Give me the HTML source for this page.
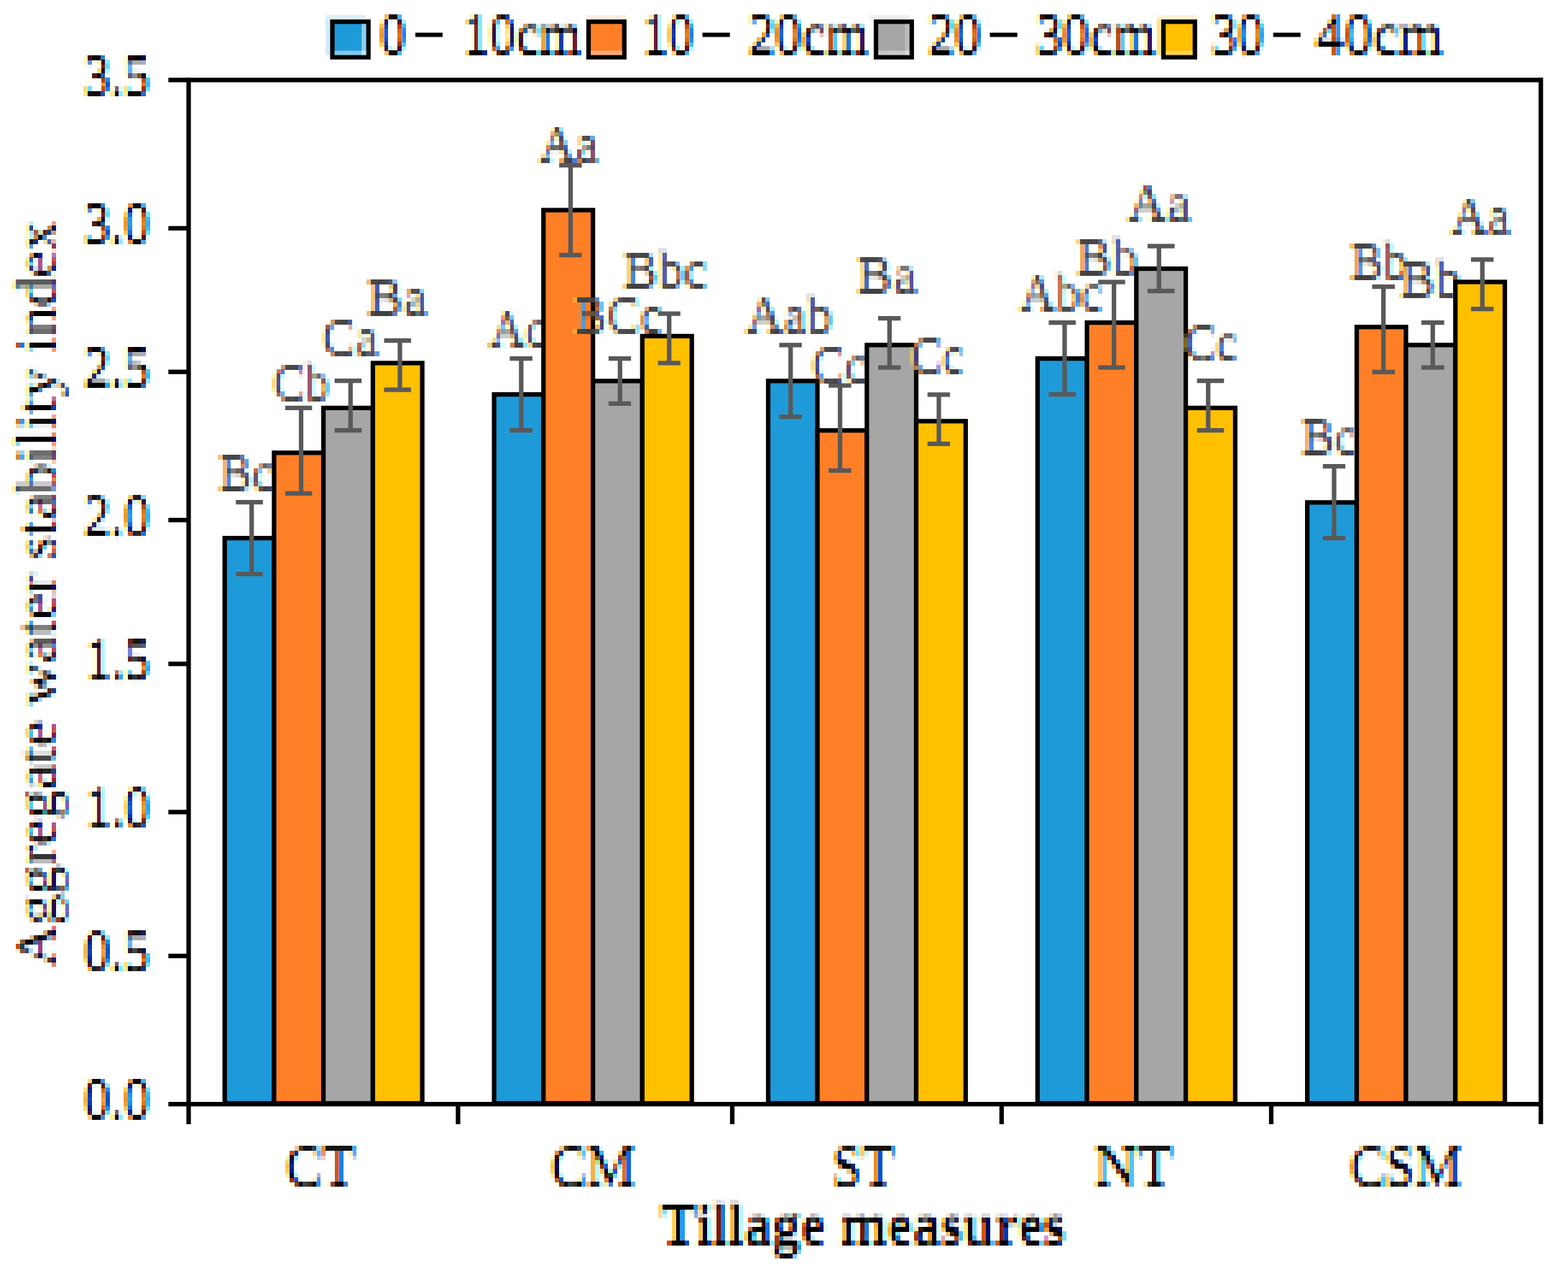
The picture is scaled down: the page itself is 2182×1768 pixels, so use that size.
<!DOCTYPE html>
<html lang="en"><head><meta charset="utf-8"><title>Aggregate water stability index by tillage measure</title>
<style>html,body{margin:0;padding:0;background:#fff}body{width:2182px;height:1768px;overflow:hidden}svg{display:block}text{text-rendering:geometricPrecision}</style></head>
<body>
<svg width="2182" height="1768" viewBox="0 0 2182 1768" font-family="'Liberation Serif', serif">
<defs>
<filter id="f1" filterUnits="userSpaceOnUse" primitiveUnits="userSpaceOnUse" x="278" y="602" width="125" height="100" color-interpolation-filters="sRGB">
<feOffset in="SourceAlpha" dx="1" dy="0" result="p0o"/><feComposite in="SourceAlpha" in2="p0o" operator="in" result="p0t"/><feComposite in="SourceAlpha" in2="p0t" operator="arithmetic" k1="0" k2="0.5" k3="0.5" k4="0" result="p0"/>
<feMorphology in="p0" operator="dilate" radius="0 1" result="p1"/>
<feOffset in="p1" dx="0" dy="0" result="th"/>
<feGaussianBlur in="th" stdDeviation="1.5 1.0" result="a"/>
<feOffset in="a" dx="2" dy="0" result="ar"/>
<feOffset in="a" dx="-2" dy="0" result="ab"/>
<feColorMatrix in="ar" type="matrix" values="0 0 0 -0.75 1 0 0 0 0 1 0 0 0 0 1 0 0 0 0 1" result="cr"/>
<feColorMatrix in="a" type="matrix" values="0 0 0 0 1 0 0 0 -0.75 1 0 0 0 0 1 0 0 0 0 1" result="cg"/>
<feColorMatrix in="ab" type="matrix" values="0 0 0 0 1 0 0 0 0 1 0 0 0 -0.75 1 0 0 0 0 1" result="cb"/>
<feBlend in="cr" in2="cg" mode="multiply" result="m"/>
<feBlend in="m" in2="cb" mode="multiply" result="rgb"/>
<feFlood x="281" y="605" width="1" height="1" flood-color="#000" result="d"/>
<feOffset in="d" dx="0" dy="0" x="278" y="602" width="6" height="6" result="c6"/>
<feTile in="c6" x="278" y="602" width="24" height="24" result="t24"/>
<feOffset in="t24" dx="0" dy="0" x="278" y="602" width="25" height="25" result="t25"/>
<feTile in="t25" x="278" y="602" width="125" height="100" result="grid"/>
<feComposite in="rgb" in2="grid" operator="in" result="s"/>
<feMorphology in="s" operator="dilate" radius="3 0" result="hx"/>
<feColorMatrix in="hx" type="matrix" values="-1 0 0 0 1 0 -1 0 0 1 0 0 -1 0 1 0 0 0 1 0" result="ink"/>
<feMorphology in="ink" operator="dilate" radius="0 3" result="vy"/>
<feColorMatrix in="vy" type="matrix" values="-1 0 0 0 1 0 -1 0 0 1 0 0 -1 0 1 0 0 0 1 0" result="pix"/>
<feColorMatrix in="pix" type="matrix" values="1 0 0 0 0 1 0 0 0 0 1 0 0 0 0 0 0 0 0 1" result="gr"/>
<feColorMatrix in="pix" type="matrix" values="0 1 0 0 0 0 1 0 0 0 0 1 0 0 0 0 0 0 0 1" result="gg"/>
<feColorMatrix in="pix" type="matrix" values="0 0 1 0 0 0 0 1 0 0 0 0 1 0 0 0 0 0 0 1" result="gb"/>
<feBlend in="gr" in2="gg" mode="darken" result="d1"/>
<feBlend in="d1" in2="gb" mode="darken" result="mn"/>
<feColorMatrix in="mn" type="matrix" values="0 0 0 0 1 0 0 0 0 1 0 0 0 0 1 1.3333 0 0 0 -0.3333" result="wm"/>
<feComposite in="pix" in2="wm" operator="arithmetic" k1="0" k2="1" k3="-1" k4="0"/>
</filter>
<filter id="f2" filterUnits="userSpaceOnUse" primitiveUnits="userSpaceOnUse" x="653" y="402" width="125" height="100" color-interpolation-filters="sRGB">
<feOffset in="SourceAlpha" dx="1" dy="0" result="p0o"/><feComposite in="SourceAlpha" in2="p0o" operator="in" result="p0t"/><feComposite in="SourceAlpha" in2="p0t" operator="arithmetic" k1="0" k2="0.5" k3="0.5" k4="0" result="p0"/>
<feMorphology in="p0" operator="dilate" radius="0 1" result="p1"/>
<feOffset in="p1" dx="0" dy="0" result="th"/>
<feGaussianBlur in="th" stdDeviation="1.5 1.0" result="a"/>
<feOffset in="a" dx="2" dy="0" result="ar"/>
<feOffset in="a" dx="-2" dy="0" result="ab"/>
<feColorMatrix in="ar" type="matrix" values="0 0 0 -0.75 1 0 0 0 0 1 0 0 0 0 1 0 0 0 0 1" result="cr"/>
<feColorMatrix in="a" type="matrix" values="0 0 0 0 1 0 0 0 -0.75 1 0 0 0 0 1 0 0 0 0 1" result="cg"/>
<feColorMatrix in="ab" type="matrix" values="0 0 0 0 1 0 0 0 0 1 0 0 0 -0.75 1 0 0 0 0 1" result="cb"/>
<feBlend in="cr" in2="cg" mode="multiply" result="m"/>
<feBlend in="m" in2="cb" mode="multiply" result="rgb"/>
<feFlood x="656" y="405" width="1" height="1" flood-color="#000" result="d"/>
<feOffset in="d" dx="0" dy="0" x="653" y="402" width="6" height="6" result="c6"/>
<feTile in="c6" x="653" y="402" width="24" height="24" result="t24"/>
<feOffset in="t24" dx="0" dy="0" x="653" y="402" width="25" height="25" result="t25"/>
<feTile in="t25" x="653" y="402" width="125" height="100" result="grid"/>
<feComposite in="rgb" in2="grid" operator="in" result="s"/>
<feMorphology in="s" operator="dilate" radius="3 0" result="hx"/>
<feColorMatrix in="hx" type="matrix" values="-1 0 0 0 1 0 -1 0 0 1 0 0 -1 0 1 0 0 0 1 0" result="ink"/>
<feMorphology in="ink" operator="dilate" radius="0 3" result="vy"/>
<feColorMatrix in="vy" type="matrix" values="-1 0 0 0 1 0 -1 0 0 1 0 0 -1 0 1 0 0 0 1 0" result="pix"/>
<feColorMatrix in="pix" type="matrix" values="1 0 0 0 0 1 0 0 0 0 1 0 0 0 0 0 0 0 0 1" result="gr"/>
<feColorMatrix in="pix" type="matrix" values="0 1 0 0 0 0 1 0 0 0 0 1 0 0 0 0 0 0 0 1" result="gg"/>
<feColorMatrix in="pix" type="matrix" values="0 0 1 0 0 0 0 1 0 0 0 0 1 0 0 0 0 0 0 1" result="gb"/>
<feBlend in="gr" in2="gg" mode="darken" result="d1"/>
<feBlend in="d1" in2="gb" mode="darken" result="mn"/>
<feColorMatrix in="mn" type="matrix" values="0 0 0 0 1 0 0 0 0 1 0 0 0 0 1 1.3333 0 0 0 -0.3333" result="wm"/>
<feComposite in="pix" in2="wm" operator="arithmetic" k1="0" k2="1" k3="-1" k4="0"/>
</filter>
<filter id="f3" filterUnits="userSpaceOnUse" primitiveUnits="userSpaceOnUse" x="1003" y="377" width="175" height="125" color-interpolation-filters="sRGB">
<feOffset in="SourceAlpha" dx="1" dy="0" result="p0o"/><feComposite in="SourceAlpha" in2="p0o" operator="in" result="p0t"/><feComposite in="SourceAlpha" in2="p0t" operator="arithmetic" k1="0" k2="0.5" k3="0.5" k4="0" result="p0"/>
<feMorphology in="p0" operator="dilate" radius="0 1" result="p1"/>
<feOffset in="p1" dx="0" dy="0" result="th"/>
<feGaussianBlur in="th" stdDeviation="1.5 1.0" result="a"/>
<feOffset in="a" dx="2" dy="0" result="ar"/>
<feOffset in="a" dx="-2" dy="0" result="ab"/>
<feColorMatrix in="ar" type="matrix" values="0 0 0 -0.75 1 0 0 0 0 1 0 0 0 0 1 0 0 0 0 1" result="cr"/>
<feColorMatrix in="a" type="matrix" values="0 0 0 0 1 0 0 0 -0.75 1 0 0 0 0 1 0 0 0 0 1" result="cg"/>
<feColorMatrix in="ab" type="matrix" values="0 0 0 0 1 0 0 0 0 1 0 0 0 -0.75 1 0 0 0 0 1" result="cb"/>
<feBlend in="cr" in2="cg" mode="multiply" result="m"/>
<feBlend in="m" in2="cb" mode="multiply" result="rgb"/>
<feFlood x="1006" y="380" width="1" height="1" flood-color="#000" result="d"/>
<feOffset in="d" dx="0" dy="0" x="1003" y="377" width="6" height="6" result="c6"/>
<feTile in="c6" x="1003" y="377" width="24" height="24" result="t24"/>
<feOffset in="t24" dx="0" dy="0" x="1003" y="377" width="25" height="25" result="t25"/>
<feTile in="t25" x="1003" y="377" width="175" height="125" result="grid"/>
<feComposite in="rgb" in2="grid" operator="in" result="s"/>
<feMorphology in="s" operator="dilate" radius="3 0" result="hx"/>
<feColorMatrix in="hx" type="matrix" values="-1 0 0 0 1 0 -1 0 0 1 0 0 -1 0 1 0 0 0 1 0" result="ink"/>
<feMorphology in="ink" operator="dilate" radius="0 3" result="vy"/>
<feColorMatrix in="vy" type="matrix" values="-1 0 0 0 1 0 -1 0 0 1 0 0 -1 0 1 0 0 0 1 0" result="pix"/>
<feColorMatrix in="pix" type="matrix" values="1 0 0 0 0 1 0 0 0 0 1 0 0 0 0 0 0 0 0 1" result="gr"/>
<feColorMatrix in="pix" type="matrix" values="0 1 0 0 0 0 1 0 0 0 0 1 0 0 0 0 0 0 0 1" result="gg"/>
<feColorMatrix in="pix" type="matrix" values="0 0 1 0 0 0 0 1 0 0 0 0 1 0 0 0 0 0 0 1" result="gb"/>
<feBlend in="gr" in2="gg" mode="darken" result="d1"/>
<feBlend in="d1" in2="gb" mode="darken" result="mn"/>
<feColorMatrix in="mn" type="matrix" values="0 0 0 0 1 0 0 0 0 1 0 0 0 0 1 1.3333 0 0 0 -0.3333" result="wm"/>
<feComposite in="pix" in2="wm" operator="arithmetic" k1="0" k2="1" k3="-1" k4="0"/>
</filter>
<filter id="f4" filterUnits="userSpaceOnUse" primitiveUnits="userSpaceOnUse" x="1403" y="352" width="150" height="100" color-interpolation-filters="sRGB">
<feOffset in="SourceAlpha" dx="1" dy="0" result="p0o"/><feComposite in="SourceAlpha" in2="p0o" operator="in" result="p0t"/><feComposite in="SourceAlpha" in2="p0t" operator="arithmetic" k1="0" k2="0.5" k3="0.5" k4="0" result="p0"/>
<feMorphology in="p0" operator="dilate" radius="0 1" result="p1"/>
<feOffset in="p1" dx="0" dy="0" result="th"/>
<feGaussianBlur in="th" stdDeviation="1.5 1.0" result="a"/>
<feOffset in="a" dx="2" dy="0" result="ar"/>
<feOffset in="a" dx="-2" dy="0" result="ab"/>
<feColorMatrix in="ar" type="matrix" values="0 0 0 -0.75 1 0 0 0 0 1 0 0 0 0 1 0 0 0 0 1" result="cr"/>
<feColorMatrix in="a" type="matrix" values="0 0 0 0 1 0 0 0 -0.75 1 0 0 0 0 1 0 0 0 0 1" result="cg"/>
<feColorMatrix in="ab" type="matrix" values="0 0 0 0 1 0 0 0 0 1 0 0 0 -0.75 1 0 0 0 0 1" result="cb"/>
<feBlend in="cr" in2="cg" mode="multiply" result="m"/>
<feBlend in="m" in2="cb" mode="multiply" result="rgb"/>
<feFlood x="1406" y="355" width="1" height="1" flood-color="#000" result="d"/>
<feOffset in="d" dx="0" dy="0" x="1403" y="352" width="6" height="6" result="c6"/>
<feTile in="c6" x="1403" y="352" width="24" height="24" result="t24"/>
<feOffset in="t24" dx="0" dy="0" x="1403" y="352" width="25" height="25" result="t25"/>
<feTile in="t25" x="1403" y="352" width="150" height="100" result="grid"/>
<feComposite in="rgb" in2="grid" operator="in" result="s"/>
<feMorphology in="s" operator="dilate" radius="3 0" result="hx"/>
<feColorMatrix in="hx" type="matrix" values="-1 0 0 0 1 0 -1 0 0 1 0 0 -1 0 1 0 0 0 1 0" result="ink"/>
<feMorphology in="ink" operator="dilate" radius="0 3" result="vy"/>
<feColorMatrix in="vy" type="matrix" values="-1 0 0 0 1 0 -1 0 0 1 0 0 -1 0 1 0 0 0 1 0" result="pix"/>
<feColorMatrix in="pix" type="matrix" values="1 0 0 0 0 1 0 0 0 0 1 0 0 0 0 0 0 0 0 1" result="gr"/>
<feColorMatrix in="pix" type="matrix" values="0 1 0 0 0 0 1 0 0 0 0 1 0 0 0 0 0 0 0 1" result="gg"/>
<feColorMatrix in="pix" type="matrix" values="0 0 1 0 0 0 0 1 0 0 0 0 1 0 0 0 0 0 0 1" result="gb"/>
<feBlend in="gr" in2="gg" mode="darken" result="d1"/>
<feBlend in="d1" in2="gb" mode="darken" result="mn"/>
<feColorMatrix in="mn" type="matrix" values="0 0 0 0 1 0 0 0 0 1 0 0 0 0 1 1.3333 0 0 0 -0.3333" result="wm"/>
<feComposite in="pix" in2="wm" operator="arithmetic" k1="0" k2="1" k3="-1" k4="0"/>
</filter>
<filter id="f5" filterUnits="userSpaceOnUse" primitiveUnits="userSpaceOnUse" x="1778" y="552" width="125" height="100" color-interpolation-filters="sRGB">
<feOffset in="SourceAlpha" dx="1" dy="0" result="p0o"/><feComposite in="SourceAlpha" in2="p0o" operator="in" result="p0t"/><feComposite in="SourceAlpha" in2="p0t" operator="arithmetic" k1="0" k2="0.5" k3="0.5" k4="0" result="p0"/>
<feMorphology in="p0" operator="dilate" radius="0 1" result="p1"/>
<feOffset in="p1" dx="0" dy="0" result="th"/>
<feGaussianBlur in="th" stdDeviation="1.5 1.0" result="a"/>
<feOffset in="a" dx="2" dy="0" result="ar"/>
<feOffset in="a" dx="-2" dy="0" result="ab"/>
<feColorMatrix in="ar" type="matrix" values="0 0 0 -0.75 1 0 0 0 0 1 0 0 0 0 1 0 0 0 0 1" result="cr"/>
<feColorMatrix in="a" type="matrix" values="0 0 0 0 1 0 0 0 -0.75 1 0 0 0 0 1 0 0 0 0 1" result="cg"/>
<feColorMatrix in="ab" type="matrix" values="0 0 0 0 1 0 0 0 0 1 0 0 0 -0.75 1 0 0 0 0 1" result="cb"/>
<feBlend in="cr" in2="cg" mode="multiply" result="m"/>
<feBlend in="m" in2="cb" mode="multiply" result="rgb"/>
<feFlood x="1781" y="555" width="1" height="1" flood-color="#000" result="d"/>
<feOffset in="d" dx="0" dy="0" x="1778" y="552" width="6" height="6" result="c6"/>
<feTile in="c6" x="1778" y="552" width="24" height="24" result="t24"/>
<feOffset in="t24" dx="0" dy="0" x="1778" y="552" width="25" height="25" result="t25"/>
<feTile in="t25" x="1778" y="552" width="125" height="100" result="grid"/>
<feComposite in="rgb" in2="grid" operator="in" result="s"/>
<feMorphology in="s" operator="dilate" radius="3 0" result="hx"/>
<feColorMatrix in="hx" type="matrix" values="-1 0 0 0 1 0 -1 0 0 1 0 0 -1 0 1 0 0 0 1 0" result="ink"/>
<feMorphology in="ink" operator="dilate" radius="0 3" result="vy"/>
<feColorMatrix in="vy" type="matrix" values="-1 0 0 0 1 0 -1 0 0 1 0 0 -1 0 1 0 0 0 1 0" result="pix"/>
<feColorMatrix in="pix" type="matrix" values="1 0 0 0 0 1 0 0 0 0 1 0 0 0 0 0 0 0 0 1" result="gr"/>
<feColorMatrix in="pix" type="matrix" values="0 1 0 0 0 0 1 0 0 0 0 1 0 0 0 0 0 0 0 1" result="gg"/>
<feColorMatrix in="pix" type="matrix" values="0 0 1 0 0 0 0 1 0 0 0 0 1 0 0 0 0 0 0 1" result="gb"/>
<feBlend in="gr" in2="gg" mode="darken" result="d1"/>
<feBlend in="d1" in2="gb" mode="darken" result="mn"/>
<feColorMatrix in="mn" type="matrix" values="0 0 0 0 1 0 0 0 0 1 0 0 0 0 1 1.3333 0 0 0 -0.3333" result="wm"/>
<feComposite in="pix" in2="wm" operator="arithmetic" k1="0" k2="1" k3="-1" k4="0"/>
</filter>
<filter id="f6" filterUnits="userSpaceOnUse" primitiveUnits="userSpaceOnUse" x="353" y="477" width="125" height="100" color-interpolation-filters="sRGB">
<feOffset in="SourceAlpha" dx="1" dy="0" result="p0o"/><feComposite in="SourceAlpha" in2="p0o" operator="in" result="p0t"/><feComposite in="SourceAlpha" in2="p0t" operator="arithmetic" k1="0" k2="0.5" k3="0.5" k4="0" result="p0"/>
<feMorphology in="p0" operator="dilate" radius="0 1" result="p1"/>
<feOffset in="p1" dx="0" dy="0" result="th"/>
<feGaussianBlur in="th" stdDeviation="1.5 1.0" result="a"/>
<feOffset in="a" dx="2" dy="0" result="ar"/>
<feOffset in="a" dx="-2" dy="0" result="ab"/>
<feColorMatrix in="ar" type="matrix" values="0 0 0 -0.75 1 0 0 0 0 1 0 0 0 0 1 0 0 0 0 1" result="cr"/>
<feColorMatrix in="a" type="matrix" values="0 0 0 0 1 0 0 0 -0.75 1 0 0 0 0 1 0 0 0 0 1" result="cg"/>
<feColorMatrix in="ab" type="matrix" values="0 0 0 0 1 0 0 0 0 1 0 0 0 -0.75 1 0 0 0 0 1" result="cb"/>
<feBlend in="cr" in2="cg" mode="multiply" result="m"/>
<feBlend in="m" in2="cb" mode="multiply" result="rgb"/>
<feFlood x="356" y="480" width="1" height="1" flood-color="#000" result="d"/>
<feOffset in="d" dx="0" dy="0" x="353" y="477" width="6" height="6" result="c6"/>
<feTile in="c6" x="353" y="477" width="24" height="24" result="t24"/>
<feOffset in="t24" dx="0" dy="0" x="353" y="477" width="25" height="25" result="t25"/>
<feTile in="t25" x="353" y="477" width="125" height="100" result="grid"/>
<feComposite in="rgb" in2="grid" operator="in" result="s"/>
<feMorphology in="s" operator="dilate" radius="3 0" result="hx"/>
<feColorMatrix in="hx" type="matrix" values="-1 0 0 0 1 0 -1 0 0 1 0 0 -1 0 1 0 0 0 1 0" result="ink"/>
<feMorphology in="ink" operator="dilate" radius="0 3" result="vy"/>
<feColorMatrix in="vy" type="matrix" values="-1 0 0 0 1 0 -1 0 0 1 0 0 -1 0 1 0 0 0 1 0" result="pix"/>
<feColorMatrix in="pix" type="matrix" values="1 0 0 0 0 1 0 0 0 0 1 0 0 0 0 0 0 0 0 1" result="gr"/>
<feColorMatrix in="pix" type="matrix" values="0 1 0 0 0 0 1 0 0 0 0 1 0 0 0 0 0 0 0 1" result="gg"/>
<feColorMatrix in="pix" type="matrix" values="0 0 1 0 0 0 0 1 0 0 0 0 1 0 0 0 0 0 0 1" result="gb"/>
<feBlend in="gr" in2="gg" mode="darken" result="d1"/>
<feBlend in="d1" in2="gb" mode="darken" result="mn"/>
<feColorMatrix in="mn" type="matrix" values="0 0 0 0 1 0 0 0 0 1 0 0 0 0 1 1.3333 0 0 0 -0.3333" result="wm"/>
<feComposite in="pix" in2="wm" operator="arithmetic" k1="0" k2="1" k3="-1" k4="0"/>
</filter>
<filter id="f7" filterUnits="userSpaceOnUse" primitiveUnits="userSpaceOnUse" x="728" y="152" width="125" height="100" color-interpolation-filters="sRGB">
<feOffset in="SourceAlpha" dx="1" dy="0" result="p0o"/><feComposite in="SourceAlpha" in2="p0o" operator="in" result="p0t"/><feComposite in="SourceAlpha" in2="p0t" operator="arithmetic" k1="0" k2="0.5" k3="0.5" k4="0" result="p0"/>
<feMorphology in="p0" operator="dilate" radius="0 1" result="p1"/>
<feOffset in="p1" dx="0" dy="0" result="th"/>
<feGaussianBlur in="th" stdDeviation="1.5 1.0" result="a"/>
<feOffset in="a" dx="2" dy="0" result="ar"/>
<feOffset in="a" dx="-2" dy="0" result="ab"/>
<feColorMatrix in="ar" type="matrix" values="0 0 0 -0.75 1 0 0 0 0 1 0 0 0 0 1 0 0 0 0 1" result="cr"/>
<feColorMatrix in="a" type="matrix" values="0 0 0 0 1 0 0 0 -0.75 1 0 0 0 0 1 0 0 0 0 1" result="cg"/>
<feColorMatrix in="ab" type="matrix" values="0 0 0 0 1 0 0 0 0 1 0 0 0 -0.75 1 0 0 0 0 1" result="cb"/>
<feBlend in="cr" in2="cg" mode="multiply" result="m"/>
<feBlend in="m" in2="cb" mode="multiply" result="rgb"/>
<feFlood x="731" y="155" width="1" height="1" flood-color="#000" result="d"/>
<feOffset in="d" dx="0" dy="0" x="728" y="152" width="6" height="6" result="c6"/>
<feTile in="c6" x="728" y="152" width="24" height="24" result="t24"/>
<feOffset in="t24" dx="0" dy="0" x="728" y="152" width="25" height="25" result="t25"/>
<feTile in="t25" x="728" y="152" width="125" height="100" result="grid"/>
<feComposite in="rgb" in2="grid" operator="in" result="s"/>
<feMorphology in="s" operator="dilate" radius="3 0" result="hx"/>
<feColorMatrix in="hx" type="matrix" values="-1 0 0 0 1 0 -1 0 0 1 0 0 -1 0 1 0 0 0 1 0" result="ink"/>
<feMorphology in="ink" operator="dilate" radius="0 3" result="vy"/>
<feColorMatrix in="vy" type="matrix" values="-1 0 0 0 1 0 -1 0 0 1 0 0 -1 0 1 0 0 0 1 0" result="pix"/>
<feColorMatrix in="pix" type="matrix" values="1 0 0 0 0 1 0 0 0 0 1 0 0 0 0 0 0 0 0 1" result="gr"/>
<feColorMatrix in="pix" type="matrix" values="0 1 0 0 0 0 1 0 0 0 0 1 0 0 0 0 0 0 0 1" result="gg"/>
<feColorMatrix in="pix" type="matrix" values="0 0 1 0 0 0 0 1 0 0 0 0 1 0 0 0 0 0 0 1" result="gb"/>
<feBlend in="gr" in2="gg" mode="darken" result="d1"/>
<feBlend in="d1" in2="gb" mode="darken" result="mn"/>
<feColorMatrix in="mn" type="matrix" values="0 0 0 0 1 0 0 0 0 1 0 0 0 0 1 1.3333 0 0 0 -0.3333" result="wm"/>
<feComposite in="pix" in2="wm" operator="arithmetic" k1="0" k2="1" k3="-1" k4="0"/>
</filter>
<filter id="f8" filterUnits="userSpaceOnUse" primitiveUnits="userSpaceOnUse" x="1103" y="452" width="125" height="100" color-interpolation-filters="sRGB">
<feOffset in="SourceAlpha" dx="1" dy="0" result="p0o"/><feComposite in="SourceAlpha" in2="p0o" operator="in" result="p0t"/><feComposite in="SourceAlpha" in2="p0t" operator="arithmetic" k1="0" k2="0.5" k3="0.5" k4="0" result="p0"/>
<feMorphology in="p0" operator="dilate" radius="0 1" result="p1"/>
<feOffset in="p1" dx="0" dy="0" result="th"/>
<feGaussianBlur in="th" stdDeviation="1.5 1.0" result="a"/>
<feOffset in="a" dx="2" dy="0" result="ar"/>
<feOffset in="a" dx="-2" dy="0" result="ab"/>
<feColorMatrix in="ar" type="matrix" values="0 0 0 -0.75 1 0 0 0 0 1 0 0 0 0 1 0 0 0 0 1" result="cr"/>
<feColorMatrix in="a" type="matrix" values="0 0 0 0 1 0 0 0 -0.75 1 0 0 0 0 1 0 0 0 0 1" result="cg"/>
<feColorMatrix in="ab" type="matrix" values="0 0 0 0 1 0 0 0 0 1 0 0 0 -0.75 1 0 0 0 0 1" result="cb"/>
<feBlend in="cr" in2="cg" mode="multiply" result="m"/>
<feBlend in="m" in2="cb" mode="multiply" result="rgb"/>
<feFlood x="1106" y="455" width="1" height="1" flood-color="#000" result="d"/>
<feOffset in="d" dx="0" dy="0" x="1103" y="452" width="6" height="6" result="c6"/>
<feTile in="c6" x="1103" y="452" width="24" height="24" result="t24"/>
<feOffset in="t24" dx="0" dy="0" x="1103" y="452" width="25" height="25" result="t25"/>
<feTile in="t25" x="1103" y="452" width="125" height="100" result="grid"/>
<feComposite in="rgb" in2="grid" operator="in" result="s"/>
<feMorphology in="s" operator="dilate" radius="3 0" result="hx"/>
<feColorMatrix in="hx" type="matrix" values="-1 0 0 0 1 0 -1 0 0 1 0 0 -1 0 1 0 0 0 1 0" result="ink"/>
<feMorphology in="ink" operator="dilate" radius="0 3" result="vy"/>
<feColorMatrix in="vy" type="matrix" values="-1 0 0 0 1 0 -1 0 0 1 0 0 -1 0 1 0 0 0 1 0" result="pix"/>
<feColorMatrix in="pix" type="matrix" values="1 0 0 0 0 1 0 0 0 0 1 0 0 0 0 0 0 0 0 1" result="gr"/>
<feColorMatrix in="pix" type="matrix" values="0 1 0 0 0 0 1 0 0 0 0 1 0 0 0 0 0 0 0 1" result="gg"/>
<feColorMatrix in="pix" type="matrix" values="0 0 1 0 0 0 0 1 0 0 0 0 1 0 0 0 0 0 0 1" result="gb"/>
<feBlend in="gr" in2="gg" mode="darken" result="d1"/>
<feBlend in="d1" in2="gb" mode="darken" result="mn"/>
<feColorMatrix in="mn" type="matrix" values="0 0 0 0 1 0 0 0 0 1 0 0 0 0 1 1.3333 0 0 0 -0.3333" result="wm"/>
<feComposite in="pix" in2="wm" operator="arithmetic" k1="0" k2="1" k3="-1" k4="0"/>
</filter>
<filter id="f9" filterUnits="userSpaceOnUse" primitiveUnits="userSpaceOnUse" x="1478" y="302" width="125" height="100" color-interpolation-filters="sRGB">
<feOffset in="SourceAlpha" dx="1" dy="0" result="p0o"/><feComposite in="SourceAlpha" in2="p0o" operator="in" result="p0t"/><feComposite in="SourceAlpha" in2="p0t" operator="arithmetic" k1="0" k2="0.5" k3="0.5" k4="0" result="p0"/>
<feMorphology in="p0" operator="dilate" radius="0 1" result="p1"/>
<feOffset in="p1" dx="0" dy="0" result="th"/>
<feGaussianBlur in="th" stdDeviation="1.5 1.0" result="a"/>
<feOffset in="a" dx="2" dy="0" result="ar"/>
<feOffset in="a" dx="-2" dy="0" result="ab"/>
<feColorMatrix in="ar" type="matrix" values="0 0 0 -0.75 1 0 0 0 0 1 0 0 0 0 1 0 0 0 0 1" result="cr"/>
<feColorMatrix in="a" type="matrix" values="0 0 0 0 1 0 0 0 -0.75 1 0 0 0 0 1 0 0 0 0 1" result="cg"/>
<feColorMatrix in="ab" type="matrix" values="0 0 0 0 1 0 0 0 0 1 0 0 0 -0.75 1 0 0 0 0 1" result="cb"/>
<feBlend in="cr" in2="cg" mode="multiply" result="m"/>
<feBlend in="m" in2="cb" mode="multiply" result="rgb"/>
<feFlood x="1481" y="305" width="1" height="1" flood-color="#000" result="d"/>
<feOffset in="d" dx="0" dy="0" x="1478" y="302" width="6" height="6" result="c6"/>
<feTile in="c6" x="1478" y="302" width="24" height="24" result="t24"/>
<feOffset in="t24" dx="0" dy="0" x="1478" y="302" width="25" height="25" result="t25"/>
<feTile in="t25" x="1478" y="302" width="125" height="100" result="grid"/>
<feComposite in="rgb" in2="grid" operator="in" result="s"/>
<feMorphology in="s" operator="dilate" radius="3 0" result="hx"/>
<feColorMatrix in="hx" type="matrix" values="-1 0 0 0 1 0 -1 0 0 1 0 0 -1 0 1 0 0 0 1 0" result="ink"/>
<feMorphology in="ink" operator="dilate" radius="0 3" result="vy"/>
<feColorMatrix in="vy" type="matrix" values="-1 0 0 0 1 0 -1 0 0 1 0 0 -1 0 1 0 0 0 1 0" result="pix"/>
<feColorMatrix in="pix" type="matrix" values="1 0 0 0 0 1 0 0 0 0 1 0 0 0 0 0 0 0 0 1" result="gr"/>
<feColorMatrix in="pix" type="matrix" values="0 1 0 0 0 0 1 0 0 0 0 1 0 0 0 0 0 0 0 1" result="gg"/>
<feColorMatrix in="pix" type="matrix" values="0 0 1 0 0 0 0 1 0 0 0 0 1 0 0 0 0 0 0 1" result="gb"/>
<feBlend in="gr" in2="gg" mode="darken" result="d1"/>
<feBlend in="d1" in2="gb" mode="darken" result="mn"/>
<feColorMatrix in="mn" type="matrix" values="0 0 0 0 1 0 0 0 0 1 0 0 0 0 1 1.3333 0 0 0 -0.3333" result="wm"/>
<feComposite in="pix" in2="wm" operator="arithmetic" k1="0" k2="1" k3="-1" k4="0"/>
</filter>
<filter id="f10" filterUnits="userSpaceOnUse" primitiveUnits="userSpaceOnUse" x="1853" y="302" width="125" height="125" color-interpolation-filters="sRGB">
<feOffset in="SourceAlpha" dx="1" dy="0" result="p0o"/><feComposite in="SourceAlpha" in2="p0o" operator="in" result="p0t"/><feComposite in="SourceAlpha" in2="p0t" operator="arithmetic" k1="0" k2="0.5" k3="0.5" k4="0" result="p0"/>
<feMorphology in="p0" operator="dilate" radius="0 1" result="p1"/>
<feOffset in="p1" dx="0" dy="0" result="th"/>
<feGaussianBlur in="th" stdDeviation="1.5 1.0" result="a"/>
<feOffset in="a" dx="2" dy="0" result="ar"/>
<feOffset in="a" dx="-2" dy="0" result="ab"/>
<feColorMatrix in="ar" type="matrix" values="0 0 0 -0.75 1 0 0 0 0 1 0 0 0 0 1 0 0 0 0 1" result="cr"/>
<feColorMatrix in="a" type="matrix" values="0 0 0 0 1 0 0 0 -0.75 1 0 0 0 0 1 0 0 0 0 1" result="cg"/>
<feColorMatrix in="ab" type="matrix" values="0 0 0 0 1 0 0 0 0 1 0 0 0 -0.75 1 0 0 0 0 1" result="cb"/>
<feBlend in="cr" in2="cg" mode="multiply" result="m"/>
<feBlend in="m" in2="cb" mode="multiply" result="rgb"/>
<feFlood x="1856" y="305" width="1" height="1" flood-color="#000" result="d"/>
<feOffset in="d" dx="0" dy="0" x="1853" y="302" width="6" height="6" result="c6"/>
<feTile in="c6" x="1853" y="302" width="24" height="24" result="t24"/>
<feOffset in="t24" dx="0" dy="0" x="1853" y="302" width="25" height="25" result="t25"/>
<feTile in="t25" x="1853" y="302" width="125" height="125" result="grid"/>
<feComposite in="rgb" in2="grid" operator="in" result="s"/>
<feMorphology in="s" operator="dilate" radius="3 0" result="hx"/>
<feColorMatrix in="hx" type="matrix" values="-1 0 0 0 1 0 -1 0 0 1 0 0 -1 0 1 0 0 0 1 0" result="ink"/>
<feMorphology in="ink" operator="dilate" radius="0 3" result="vy"/>
<feColorMatrix in="vy" type="matrix" values="-1 0 0 0 1 0 -1 0 0 1 0 0 -1 0 1 0 0 0 1 0" result="pix"/>
<feColorMatrix in="pix" type="matrix" values="1 0 0 0 0 1 0 0 0 0 1 0 0 0 0 0 0 0 0 1" result="gr"/>
<feColorMatrix in="pix" type="matrix" values="0 1 0 0 0 0 1 0 0 0 0 1 0 0 0 0 0 0 0 1" result="gg"/>
<feColorMatrix in="pix" type="matrix" values="0 0 1 0 0 0 0 1 0 0 0 0 1 0 0 0 0 0 0 1" result="gb"/>
<feBlend in="gr" in2="gg" mode="darken" result="d1"/>
<feBlend in="d1" in2="gb" mode="darken" result="mn"/>
<feColorMatrix in="mn" type="matrix" values="0 0 0 0 1 0 0 0 0 1 0 0 0 0 1 1.3333 0 0 0 -0.3333" result="wm"/>
<feComposite in="pix" in2="wm" operator="arithmetic" k1="0" k2="1" k3="-1" k4="0"/>
</filter>
<filter id="f11" filterUnits="userSpaceOnUse" primitiveUnits="userSpaceOnUse" x="428" y="427" width="125" height="100" color-interpolation-filters="sRGB">
<feOffset in="SourceAlpha" dx="1" dy="0" result="p0o"/><feComposite in="SourceAlpha" in2="p0o" operator="in" result="p0t"/><feComposite in="SourceAlpha" in2="p0t" operator="arithmetic" k1="0" k2="0.5" k3="0.5" k4="0" result="p0"/>
<feMorphology in="p0" operator="dilate" radius="0 1" result="p1"/>
<feOffset in="p1" dx="0" dy="0" result="th"/>
<feGaussianBlur in="th" stdDeviation="1.5 1.0" result="a"/>
<feOffset in="a" dx="2" dy="0" result="ar"/>
<feOffset in="a" dx="-2" dy="0" result="ab"/>
<feColorMatrix in="ar" type="matrix" values="0 0 0 -0.75 1 0 0 0 0 1 0 0 0 0 1 0 0 0 0 1" result="cr"/>
<feColorMatrix in="a" type="matrix" values="0 0 0 0 1 0 0 0 -0.75 1 0 0 0 0 1 0 0 0 0 1" result="cg"/>
<feColorMatrix in="ab" type="matrix" values="0 0 0 0 1 0 0 0 0 1 0 0 0 -0.75 1 0 0 0 0 1" result="cb"/>
<feBlend in="cr" in2="cg" mode="multiply" result="m"/>
<feBlend in="m" in2="cb" mode="multiply" result="rgb"/>
<feFlood x="431" y="430" width="1" height="1" flood-color="#000" result="d"/>
<feOffset in="d" dx="0" dy="0" x="428" y="427" width="6" height="6" result="c6"/>
<feTile in="c6" x="428" y="427" width="24" height="24" result="t24"/>
<feOffset in="t24" dx="0" dy="0" x="428" y="427" width="25" height="25" result="t25"/>
<feTile in="t25" x="428" y="427" width="125" height="100" result="grid"/>
<feComposite in="rgb" in2="grid" operator="in" result="s"/>
<feMorphology in="s" operator="dilate" radius="3 0" result="hx"/>
<feColorMatrix in="hx" type="matrix" values="-1 0 0 0 1 0 -1 0 0 1 0 0 -1 0 1 0 0 0 1 0" result="ink"/>
<feMorphology in="ink" operator="dilate" radius="0 3" result="vy"/>
<feColorMatrix in="vy" type="matrix" values="-1 0 0 0 1 0 -1 0 0 1 0 0 -1 0 1 0 0 0 1 0" result="pix"/>
<feColorMatrix in="pix" type="matrix" values="1 0 0 0 0 1 0 0 0 0 1 0 0 0 0 0 0 0 0 1" result="gr"/>
<feColorMatrix in="pix" type="matrix" values="0 1 0 0 0 0 1 0 0 0 0 1 0 0 0 0 0 0 0 1" result="gg"/>
<feColorMatrix in="pix" type="matrix" values="0 0 1 0 0 0 0 1 0 0 0 0 1 0 0 0 0 0 0 1" result="gb"/>
<feBlend in="gr" in2="gg" mode="darken" result="d1"/>
<feBlend in="d1" in2="gb" mode="darken" result="mn"/>
<feColorMatrix in="mn" type="matrix" values="0 0 0 0 1 0 0 0 0 1 0 0 0 0 1 1.3333 0 0 0 -0.3333" result="wm"/>
<feComposite in="pix" in2="wm" operator="arithmetic" k1="0" k2="1" k3="-1" k4="0"/>
</filter>
<filter id="f12" filterUnits="userSpaceOnUse" primitiveUnits="userSpaceOnUse" x="778" y="402" width="175" height="100" color-interpolation-filters="sRGB">
<feOffset in="SourceAlpha" dx="1" dy="0" result="p0o"/><feComposite in="SourceAlpha" in2="p0o" operator="in" result="p0t"/><feComposite in="SourceAlpha" in2="p0t" operator="arithmetic" k1="0" k2="0.5" k3="0.5" k4="0" result="p0"/>
<feMorphology in="p0" operator="dilate" radius="0 1" result="p1"/>
<feOffset in="p1" dx="0" dy="0" result="th"/>
<feGaussianBlur in="th" stdDeviation="1.5 1.0" result="a"/>
<feOffset in="a" dx="2" dy="0" result="ar"/>
<feOffset in="a" dx="-2" dy="0" result="ab"/>
<feColorMatrix in="ar" type="matrix" values="0 0 0 -0.75 1 0 0 0 0 1 0 0 0 0 1 0 0 0 0 1" result="cr"/>
<feColorMatrix in="a" type="matrix" values="0 0 0 0 1 0 0 0 -0.75 1 0 0 0 0 1 0 0 0 0 1" result="cg"/>
<feColorMatrix in="ab" type="matrix" values="0 0 0 0 1 0 0 0 0 1 0 0 0 -0.75 1 0 0 0 0 1" result="cb"/>
<feBlend in="cr" in2="cg" mode="multiply" result="m"/>
<feBlend in="m" in2="cb" mode="multiply" result="rgb"/>
<feFlood x="781" y="405" width="1" height="1" flood-color="#000" result="d"/>
<feOffset in="d" dx="0" dy="0" x="778" y="402" width="6" height="6" result="c6"/>
<feTile in="c6" x="778" y="402" width="24" height="24" result="t24"/>
<feOffset in="t24" dx="0" dy="0" x="778" y="402" width="25" height="25" result="t25"/>
<feTile in="t25" x="778" y="402" width="175" height="100" result="grid"/>
<feComposite in="rgb" in2="grid" operator="in" result="s"/>
<feMorphology in="s" operator="dilate" radius="3 0" result="hx"/>
<feColorMatrix in="hx" type="matrix" values="-1 0 0 0 1 0 -1 0 0 1 0 0 -1 0 1 0 0 0 1 0" result="ink"/>
<feMorphology in="ink" operator="dilate" radius="0 3" result="vy"/>
<feColorMatrix in="vy" type="matrix" values="-1 0 0 0 1 0 -1 0 0 1 0 0 -1 0 1 0 0 0 1 0" result="pix"/>
<feColorMatrix in="pix" type="matrix" values="1 0 0 0 0 1 0 0 0 0 1 0 0 0 0 0 0 0 0 1" result="gr"/>
<feColorMatrix in="pix" type="matrix" values="0 1 0 0 0 0 1 0 0 0 0 1 0 0 0 0 0 0 0 1" result="gg"/>
<feColorMatrix in="pix" type="matrix" values="0 0 1 0 0 0 0 1 0 0 0 0 1 0 0 0 0 0 0 1" result="gb"/>
<feBlend in="gr" in2="gg" mode="darken" result="d1"/>
<feBlend in="d1" in2="gb" mode="darken" result="mn"/>
<feColorMatrix in="mn" type="matrix" values="0 0 0 0 1 0 0 0 0 1 0 0 0 0 1 1.3333 0 0 0 -0.3333" result="wm"/>
<feComposite in="pix" in2="wm" operator="arithmetic" k1="0" k2="1" k3="-1" k4="0"/>
</filter>
<filter id="f13" filterUnits="userSpaceOnUse" primitiveUnits="userSpaceOnUse" x="1178" y="327" width="125" height="100" color-interpolation-filters="sRGB">
<feOffset in="SourceAlpha" dx="1" dy="0" result="p0o"/><feComposite in="SourceAlpha" in2="p0o" operator="in" result="p0t"/><feComposite in="SourceAlpha" in2="p0t" operator="arithmetic" k1="0" k2="0.5" k3="0.5" k4="0" result="p0"/>
<feMorphology in="p0" operator="dilate" radius="0 1" result="p1"/>
<feOffset in="p1" dx="0" dy="0" result="th"/>
<feGaussianBlur in="th" stdDeviation="1.5 1.0" result="a"/>
<feOffset in="a" dx="2" dy="0" result="ar"/>
<feOffset in="a" dx="-2" dy="0" result="ab"/>
<feColorMatrix in="ar" type="matrix" values="0 0 0 -0.75 1 0 0 0 0 1 0 0 0 0 1 0 0 0 0 1" result="cr"/>
<feColorMatrix in="a" type="matrix" values="0 0 0 0 1 0 0 0 -0.75 1 0 0 0 0 1 0 0 0 0 1" result="cg"/>
<feColorMatrix in="ab" type="matrix" values="0 0 0 0 1 0 0 0 0 1 0 0 0 -0.75 1 0 0 0 0 1" result="cb"/>
<feBlend in="cr" in2="cg" mode="multiply" result="m"/>
<feBlend in="m" in2="cb" mode="multiply" result="rgb"/>
<feFlood x="1181" y="330" width="1" height="1" flood-color="#000" result="d"/>
<feOffset in="d" dx="0" dy="0" x="1178" y="327" width="6" height="6" result="c6"/>
<feTile in="c6" x="1178" y="327" width="24" height="24" result="t24"/>
<feOffset in="t24" dx="0" dy="0" x="1178" y="327" width="25" height="25" result="t25"/>
<feTile in="t25" x="1178" y="327" width="125" height="100" result="grid"/>
<feComposite in="rgb" in2="grid" operator="in" result="s"/>
<feMorphology in="s" operator="dilate" radius="3 0" result="hx"/>
<feColorMatrix in="hx" type="matrix" values="-1 0 0 0 1 0 -1 0 0 1 0 0 -1 0 1 0 0 0 1 0" result="ink"/>
<feMorphology in="ink" operator="dilate" radius="0 3" result="vy"/>
<feColorMatrix in="vy" type="matrix" values="-1 0 0 0 1 0 -1 0 0 1 0 0 -1 0 1 0 0 0 1 0" result="pix"/>
<feColorMatrix in="pix" type="matrix" values="1 0 0 0 0 1 0 0 0 0 1 0 0 0 0 0 0 0 0 1" result="gr"/>
<feColorMatrix in="pix" type="matrix" values="0 1 0 0 0 0 1 0 0 0 0 1 0 0 0 0 0 0 0 1" result="gg"/>
<feColorMatrix in="pix" type="matrix" values="0 0 1 0 0 0 0 1 0 0 0 0 1 0 0 0 0 0 0 1" result="gb"/>
<feBlend in="gr" in2="gg" mode="darken" result="d1"/>
<feBlend in="d1" in2="gb" mode="darken" result="mn"/>
<feColorMatrix in="mn" type="matrix" values="0 0 0 0 1 0 0 0 0 1 0 0 0 0 1 1.3333 0 0 0 -0.3333" result="wm"/>
<feComposite in="pix" in2="wm" operator="arithmetic" k1="0" k2="1" k3="-1" k4="0"/>
</filter>
<filter id="f14" filterUnits="userSpaceOnUse" primitiveUnits="userSpaceOnUse" x="1553" y="227" width="125" height="100" color-interpolation-filters="sRGB">
<feOffset in="SourceAlpha" dx="1" dy="0" result="p0o"/><feComposite in="SourceAlpha" in2="p0o" operator="in" result="p0t"/><feComposite in="SourceAlpha" in2="p0t" operator="arithmetic" k1="0" k2="0.5" k3="0.5" k4="0" result="p0"/>
<feMorphology in="p0" operator="dilate" radius="0 1" result="p1"/>
<feOffset in="p1" dx="0" dy="0" result="th"/>
<feGaussianBlur in="th" stdDeviation="1.5 1.0" result="a"/>
<feOffset in="a" dx="2" dy="0" result="ar"/>
<feOffset in="a" dx="-2" dy="0" result="ab"/>
<feColorMatrix in="ar" type="matrix" values="0 0 0 -0.75 1 0 0 0 0 1 0 0 0 0 1 0 0 0 0 1" result="cr"/>
<feColorMatrix in="a" type="matrix" values="0 0 0 0 1 0 0 0 -0.75 1 0 0 0 0 1 0 0 0 0 1" result="cg"/>
<feColorMatrix in="ab" type="matrix" values="0 0 0 0 1 0 0 0 0 1 0 0 0 -0.75 1 0 0 0 0 1" result="cb"/>
<feBlend in="cr" in2="cg" mode="multiply" result="m"/>
<feBlend in="m" in2="cb" mode="multiply" result="rgb"/>
<feFlood x="1556" y="230" width="1" height="1" flood-color="#000" result="d"/>
<feOffset in="d" dx="0" dy="0" x="1553" y="227" width="6" height="6" result="c6"/>
<feTile in="c6" x="1553" y="227" width="24" height="24" result="t24"/>
<feOffset in="t24" dx="0" dy="0" x="1553" y="227" width="25" height="25" result="t25"/>
<feTile in="t25" x="1553" y="227" width="125" height="100" result="grid"/>
<feComposite in="rgb" in2="grid" operator="in" result="s"/>
<feMorphology in="s" operator="dilate" radius="3 0" result="hx"/>
<feColorMatrix in="hx" type="matrix" values="-1 0 0 0 1 0 -1 0 0 1 0 0 -1 0 1 0 0 0 1 0" result="ink"/>
<feMorphology in="ink" operator="dilate" radius="0 3" result="vy"/>
<feColorMatrix in="vy" type="matrix" values="-1 0 0 0 1 0 -1 0 0 1 0 0 -1 0 1 0 0 0 1 0" result="pix"/>
<feColorMatrix in="pix" type="matrix" values="1 0 0 0 0 1 0 0 0 0 1 0 0 0 0 0 0 0 0 1" result="gr"/>
<feColorMatrix in="pix" type="matrix" values="0 1 0 0 0 0 1 0 0 0 0 1 0 0 0 0 0 0 0 1" result="gg"/>
<feColorMatrix in="pix" type="matrix" values="0 0 1 0 0 0 0 1 0 0 0 0 1 0 0 0 0 0 0 1" result="gb"/>
<feBlend in="gr" in2="gg" mode="darken" result="d1"/>
<feBlend in="d1" in2="gb" mode="darken" result="mn"/>
<feColorMatrix in="mn" type="matrix" values="0 0 0 0 1 0 0 0 0 1 0 0 0 0 1 1.3333 0 0 0 -0.3333" result="wm"/>
<feComposite in="pix" in2="wm" operator="arithmetic" k1="0" k2="1" k3="-1" k4="0"/>
</filter>
<filter id="f15" filterUnits="userSpaceOnUse" primitiveUnits="userSpaceOnUse" x="1928" y="327" width="125" height="125" color-interpolation-filters="sRGB">
<feOffset in="SourceAlpha" dx="1" dy="0" result="p0o"/><feComposite in="SourceAlpha" in2="p0o" operator="in" result="p0t"/><feComposite in="SourceAlpha" in2="p0t" operator="arithmetic" k1="0" k2="0.5" k3="0.5" k4="0" result="p0"/>
<feMorphology in="p0" operator="dilate" radius="0 1" result="p1"/>
<feOffset in="p1" dx="0" dy="0" result="th"/>
<feGaussianBlur in="th" stdDeviation="1.5 1.0" result="a"/>
<feOffset in="a" dx="2" dy="0" result="ar"/>
<feOffset in="a" dx="-2" dy="0" result="ab"/>
<feColorMatrix in="ar" type="matrix" values="0 0 0 -0.75 1 0 0 0 0 1 0 0 0 0 1 0 0 0 0 1" result="cr"/>
<feColorMatrix in="a" type="matrix" values="0 0 0 0 1 0 0 0 -0.75 1 0 0 0 0 1 0 0 0 0 1" result="cg"/>
<feColorMatrix in="ab" type="matrix" values="0 0 0 0 1 0 0 0 0 1 0 0 0 -0.75 1 0 0 0 0 1" result="cb"/>
<feBlend in="cr" in2="cg" mode="multiply" result="m"/>
<feBlend in="m" in2="cb" mode="multiply" result="rgb"/>
<feFlood x="1931" y="330" width="1" height="1" flood-color="#000" result="d"/>
<feOffset in="d" dx="0" dy="0" x="1928" y="327" width="6" height="6" result="c6"/>
<feTile in="c6" x="1928" y="327" width="24" height="24" result="t24"/>
<feOffset in="t24" dx="0" dy="0" x="1928" y="327" width="25" height="25" result="t25"/>
<feTile in="t25" x="1928" y="327" width="125" height="125" result="grid"/>
<feComposite in="rgb" in2="grid" operator="in" result="s"/>
<feMorphology in="s" operator="dilate" radius="3 0" result="hx"/>
<feColorMatrix in="hx" type="matrix" values="-1 0 0 0 1 0 -1 0 0 1 0 0 -1 0 1 0 0 0 1 0" result="ink"/>
<feMorphology in="ink" operator="dilate" radius="0 3" result="vy"/>
<feColorMatrix in="vy" type="matrix" values="-1 0 0 0 1 0 -1 0 0 1 0 0 -1 0 1 0 0 0 1 0" result="pix"/>
<feColorMatrix in="pix" type="matrix" values="1 0 0 0 0 1 0 0 0 0 1 0 0 0 0 0 0 0 0 1" result="gr"/>
<feColorMatrix in="pix" type="matrix" values="0 1 0 0 0 0 1 0 0 0 0 1 0 0 0 0 0 0 0 1" result="gg"/>
<feColorMatrix in="pix" type="matrix" values="0 0 1 0 0 0 0 1 0 0 0 0 1 0 0 0 0 0 0 1" result="gb"/>
<feBlend in="gr" in2="gg" mode="darken" result="d1"/>
<feBlend in="d1" in2="gb" mode="darken" result="mn"/>
<feColorMatrix in="mn" type="matrix" values="0 0 0 0 1 0 0 0 0 1 0 0 0 0 1 1.3333 0 0 0 -0.3333" result="wm"/>
<feComposite in="pix" in2="wm" operator="arithmetic" k1="0" k2="1" k3="-1" k4="0"/>
</filter>
<filter id="f16" filterUnits="userSpaceOnUse" primitiveUnits="userSpaceOnUse" x="478" y="377" width="150" height="100" color-interpolation-filters="sRGB">
<feOffset in="SourceAlpha" dx="1" dy="0" result="p0o"/><feComposite in="SourceAlpha" in2="p0o" operator="in" result="p0t"/><feComposite in="SourceAlpha" in2="p0t" operator="arithmetic" k1="0" k2="0.5" k3="0.5" k4="0" result="p0"/>
<feMorphology in="p0" operator="dilate" radius="0 1" result="p1"/>
<feOffset in="p1" dx="0" dy="0" result="th"/>
<feGaussianBlur in="th" stdDeviation="1.5 1.0" result="a"/>
<feOffset in="a" dx="2" dy="0" result="ar"/>
<feOffset in="a" dx="-2" dy="0" result="ab"/>
<feColorMatrix in="ar" type="matrix" values="0 0 0 -0.75 1 0 0 0 0 1 0 0 0 0 1 0 0 0 0 1" result="cr"/>
<feColorMatrix in="a" type="matrix" values="0 0 0 0 1 0 0 0 -0.75 1 0 0 0 0 1 0 0 0 0 1" result="cg"/>
<feColorMatrix in="ab" type="matrix" values="0 0 0 0 1 0 0 0 0 1 0 0 0 -0.75 1 0 0 0 0 1" result="cb"/>
<feBlend in="cr" in2="cg" mode="multiply" result="m"/>
<feBlend in="m" in2="cb" mode="multiply" result="rgb"/>
<feFlood x="481" y="380" width="1" height="1" flood-color="#000" result="d"/>
<feOffset in="d" dx="0" dy="0" x="478" y="377" width="6" height="6" result="c6"/>
<feTile in="c6" x="478" y="377" width="24" height="24" result="t24"/>
<feOffset in="t24" dx="0" dy="0" x="478" y="377" width="25" height="25" result="t25"/>
<feTile in="t25" x="478" y="377" width="150" height="100" result="grid"/>
<feComposite in="rgb" in2="grid" operator="in" result="s"/>
<feMorphology in="s" operator="dilate" radius="3 0" result="hx"/>
<feColorMatrix in="hx" type="matrix" values="-1 0 0 0 1 0 -1 0 0 1 0 0 -1 0 1 0 0 0 1 0" result="ink"/>
<feMorphology in="ink" operator="dilate" radius="0 3" result="vy"/>
<feColorMatrix in="vy" type="matrix" values="-1 0 0 0 1 0 -1 0 0 1 0 0 -1 0 1 0 0 0 1 0" result="pix"/>
<feColorMatrix in="pix" type="matrix" values="1 0 0 0 0 1 0 0 0 0 1 0 0 0 0 0 0 0 0 1" result="gr"/>
<feColorMatrix in="pix" type="matrix" values="0 1 0 0 0 0 1 0 0 0 0 1 0 0 0 0 0 0 0 1" result="gg"/>
<feColorMatrix in="pix" type="matrix" values="0 0 1 0 0 0 0 1 0 0 0 0 1 0 0 0 0 0 0 1" result="gb"/>
<feBlend in="gr" in2="gg" mode="darken" result="d1"/>
<feBlend in="d1" in2="gb" mode="darken" result="mn"/>
<feColorMatrix in="mn" type="matrix" values="0 0 0 0 1 0 0 0 0 1 0 0 0 0 1 1.3333 0 0 0 -0.3333" result="wm"/>
<feComposite in="pix" in2="wm" operator="arithmetic" k1="0" k2="1" k3="-1" k4="0"/>
</filter>
<filter id="f17" filterUnits="userSpaceOnUse" primitiveUnits="userSpaceOnUse" x="853" y="327" width="150" height="100" color-interpolation-filters="sRGB">
<feOffset in="SourceAlpha" dx="1" dy="0" result="p0o"/><feComposite in="SourceAlpha" in2="p0o" operator="in" result="p0t"/><feComposite in="SourceAlpha" in2="p0t" operator="arithmetic" k1="0" k2="0.5" k3="0.5" k4="0" result="p0"/>
<feMorphology in="p0" operator="dilate" radius="0 1" result="p1"/>
<feOffset in="p1" dx="0" dy="0" result="th"/>
<feGaussianBlur in="th" stdDeviation="1.5 1.0" result="a"/>
<feOffset in="a" dx="2" dy="0" result="ar"/>
<feOffset in="a" dx="-2" dy="0" result="ab"/>
<feColorMatrix in="ar" type="matrix" values="0 0 0 -0.75 1 0 0 0 0 1 0 0 0 0 1 0 0 0 0 1" result="cr"/>
<feColorMatrix in="a" type="matrix" values="0 0 0 0 1 0 0 0 -0.75 1 0 0 0 0 1 0 0 0 0 1" result="cg"/>
<feColorMatrix in="ab" type="matrix" values="0 0 0 0 1 0 0 0 0 1 0 0 0 -0.75 1 0 0 0 0 1" result="cb"/>
<feBlend in="cr" in2="cg" mode="multiply" result="m"/>
<feBlend in="m" in2="cb" mode="multiply" result="rgb"/>
<feFlood x="856" y="330" width="1" height="1" flood-color="#000" result="d"/>
<feOffset in="d" dx="0" dy="0" x="853" y="327" width="6" height="6" result="c6"/>
<feTile in="c6" x="853" y="327" width="24" height="24" result="t24"/>
<feOffset in="t24" dx="0" dy="0" x="853" y="327" width="25" height="25" result="t25"/>
<feTile in="t25" x="853" y="327" width="150" height="100" result="grid"/>
<feComposite in="rgb" in2="grid" operator="in" result="s"/>
<feMorphology in="s" operator="dilate" radius="3 0" result="hx"/>
<feColorMatrix in="hx" type="matrix" values="-1 0 0 0 1 0 -1 0 0 1 0 0 -1 0 1 0 0 0 1 0" result="ink"/>
<feMorphology in="ink" operator="dilate" radius="0 3" result="vy"/>
<feColorMatrix in="vy" type="matrix" values="-1 0 0 0 1 0 -1 0 0 1 0 0 -1 0 1 0 0 0 1 0" result="pix"/>
<feColorMatrix in="pix" type="matrix" values="1 0 0 0 0 1 0 0 0 0 1 0 0 0 0 0 0 0 0 1" result="gr"/>
<feColorMatrix in="pix" type="matrix" values="0 1 0 0 0 0 1 0 0 0 0 1 0 0 0 0 0 0 0 1" result="gg"/>
<feColorMatrix in="pix" type="matrix" values="0 0 1 0 0 0 0 1 0 0 0 0 1 0 0 0 0 0 0 1" result="gb"/>
<feBlend in="gr" in2="gg" mode="darken" result="d1"/>
<feBlend in="d1" in2="gb" mode="darken" result="mn"/>
<feColorMatrix in="mn" type="matrix" values="0 0 0 0 1 0 0 0 0 1 0 0 0 0 1 1.3333 0 0 0 -0.3333" result="wm"/>
<feComposite in="pix" in2="wm" operator="arithmetic" k1="0" k2="1" k3="-1" k4="0"/>
</filter>
<filter id="f18" filterUnits="userSpaceOnUse" primitiveUnits="userSpaceOnUse" x="1253" y="452" width="100" height="100" color-interpolation-filters="sRGB">
<feOffset in="SourceAlpha" dx="1" dy="0" result="p0o"/><feComposite in="SourceAlpha" in2="p0o" operator="in" result="p0t"/><feComposite in="SourceAlpha" in2="p0t" operator="arithmetic" k1="0" k2="0.5" k3="0.5" k4="0" result="p0"/>
<feMorphology in="p0" operator="dilate" radius="0 1" result="p1"/>
<feOffset in="p1" dx="0" dy="0" result="th"/>
<feGaussianBlur in="th" stdDeviation="1.5 1.0" result="a"/>
<feOffset in="a" dx="2" dy="0" result="ar"/>
<feOffset in="a" dx="-2" dy="0" result="ab"/>
<feColorMatrix in="ar" type="matrix" values="0 0 0 -0.75 1 0 0 0 0 1 0 0 0 0 1 0 0 0 0 1" result="cr"/>
<feColorMatrix in="a" type="matrix" values="0 0 0 0 1 0 0 0 -0.75 1 0 0 0 0 1 0 0 0 0 1" result="cg"/>
<feColorMatrix in="ab" type="matrix" values="0 0 0 0 1 0 0 0 0 1 0 0 0 -0.75 1 0 0 0 0 1" result="cb"/>
<feBlend in="cr" in2="cg" mode="multiply" result="m"/>
<feBlend in="m" in2="cb" mode="multiply" result="rgb"/>
<feFlood x="1256" y="455" width="1" height="1" flood-color="#000" result="d"/>
<feOffset in="d" dx="0" dy="0" x="1253" y="452" width="6" height="6" result="c6"/>
<feTile in="c6" x="1253" y="452" width="24" height="24" result="t24"/>
<feOffset in="t24" dx="0" dy="0" x="1253" y="452" width="25" height="25" result="t25"/>
<feTile in="t25" x="1253" y="452" width="100" height="100" result="grid"/>
<feComposite in="rgb" in2="grid" operator="in" result="s"/>
<feMorphology in="s" operator="dilate" radius="3 0" result="hx"/>
<feColorMatrix in="hx" type="matrix" values="-1 0 0 0 1 0 -1 0 0 1 0 0 -1 0 1 0 0 0 1 0" result="ink"/>
<feMorphology in="ink" operator="dilate" radius="0 3" result="vy"/>
<feColorMatrix in="vy" type="matrix" values="-1 0 0 0 1 0 -1 0 0 1 0 0 -1 0 1 0 0 0 1 0" result="pix"/>
<feColorMatrix in="pix" type="matrix" values="1 0 0 0 0 1 0 0 0 0 1 0 0 0 0 0 0 0 0 1" result="gr"/>
<feColorMatrix in="pix" type="matrix" values="0 1 0 0 0 0 1 0 0 0 0 1 0 0 0 0 0 0 0 1" result="gg"/>
<feColorMatrix in="pix" type="matrix" values="0 0 1 0 0 0 0 1 0 0 0 0 1 0 0 0 0 0 0 1" result="gb"/>
<feBlend in="gr" in2="gg" mode="darken" result="d1"/>
<feBlend in="d1" in2="gb" mode="darken" result="mn"/>
<feColorMatrix in="mn" type="matrix" values="0 0 0 0 1 0 0 0 0 1 0 0 0 0 1 1.3333 0 0 0 -0.3333" result="wm"/>
<feComposite in="pix" in2="wm" operator="arithmetic" k1="0" k2="1" k3="-1" k4="0"/>
</filter>
<filter id="f19" filterUnits="userSpaceOnUse" primitiveUnits="userSpaceOnUse" x="1628" y="427" width="125" height="100" color-interpolation-filters="sRGB">
<feOffset in="SourceAlpha" dx="1" dy="0" result="p0o"/><feComposite in="SourceAlpha" in2="p0o" operator="in" result="p0t"/><feComposite in="SourceAlpha" in2="p0t" operator="arithmetic" k1="0" k2="0.5" k3="0.5" k4="0" result="p0"/>
<feMorphology in="p0" operator="dilate" radius="0 1" result="p1"/>
<feOffset in="p1" dx="0" dy="0" result="th"/>
<feGaussianBlur in="th" stdDeviation="1.5 1.0" result="a"/>
<feOffset in="a" dx="2" dy="0" result="ar"/>
<feOffset in="a" dx="-2" dy="0" result="ab"/>
<feColorMatrix in="ar" type="matrix" values="0 0 0 -0.75 1 0 0 0 0 1 0 0 0 0 1 0 0 0 0 1" result="cr"/>
<feColorMatrix in="a" type="matrix" values="0 0 0 0 1 0 0 0 -0.75 1 0 0 0 0 1 0 0 0 0 1" result="cg"/>
<feColorMatrix in="ab" type="matrix" values="0 0 0 0 1 0 0 0 0 1 0 0 0 -0.75 1 0 0 0 0 1" result="cb"/>
<feBlend in="cr" in2="cg" mode="multiply" result="m"/>
<feBlend in="m" in2="cb" mode="multiply" result="rgb"/>
<feFlood x="1631" y="430" width="1" height="1" flood-color="#000" result="d"/>
<feOffset in="d" dx="0" dy="0" x="1628" y="427" width="6" height="6" result="c6"/>
<feTile in="c6" x="1628" y="427" width="24" height="24" result="t24"/>
<feOffset in="t24" dx="0" dy="0" x="1628" y="427" width="25" height="25" result="t25"/>
<feTile in="t25" x="1628" y="427" width="125" height="100" result="grid"/>
<feComposite in="rgb" in2="grid" operator="in" result="s"/>
<feMorphology in="s" operator="dilate" radius="3 0" result="hx"/>
<feColorMatrix in="hx" type="matrix" values="-1 0 0 0 1 0 -1 0 0 1 0 0 -1 0 1 0 0 0 1 0" result="ink"/>
<feMorphology in="ink" operator="dilate" radius="0 3" result="vy"/>
<feColorMatrix in="vy" type="matrix" values="-1 0 0 0 1 0 -1 0 0 1 0 0 -1 0 1 0 0 0 1 0" result="pix"/>
<feColorMatrix in="pix" type="matrix" values="1 0 0 0 0 1 0 0 0 0 1 0 0 0 0 0 0 0 0 1" result="gr"/>
<feColorMatrix in="pix" type="matrix" values="0 1 0 0 0 0 1 0 0 0 0 1 0 0 0 0 0 0 0 1" result="gg"/>
<feColorMatrix in="pix" type="matrix" values="0 0 1 0 0 0 0 1 0 0 0 0 1 0 0 0 0 0 0 1" result="gb"/>
<feBlend in="gr" in2="gg" mode="darken" result="d1"/>
<feBlend in="d1" in2="gb" mode="darken" result="mn"/>
<feColorMatrix in="mn" type="matrix" values="0 0 0 0 1 0 0 0 0 1 0 0 0 0 1 1.3333 0 0 0 -0.3333" result="wm"/>
<feComposite in="pix" in2="wm" operator="arithmetic" k1="0" k2="1" k3="-1" k4="0"/>
</filter>
<filter id="f20" filterUnits="userSpaceOnUse" primitiveUnits="userSpaceOnUse" x="2003" y="252" width="125" height="100" color-interpolation-filters="sRGB">
<feOffset in="SourceAlpha" dx="1" dy="0" result="p0o"/><feComposite in="SourceAlpha" in2="p0o" operator="in" result="p0t"/><feComposite in="SourceAlpha" in2="p0t" operator="arithmetic" k1="0" k2="0.5" k3="0.5" k4="0" result="p0"/>
<feMorphology in="p0" operator="dilate" radius="0 1" result="p1"/>
<feOffset in="p1" dx="0" dy="0" result="th"/>
<feGaussianBlur in="th" stdDeviation="1.5 1.0" result="a"/>
<feOffset in="a" dx="2" dy="0" result="ar"/>
<feOffset in="a" dx="-2" dy="0" result="ab"/>
<feColorMatrix in="ar" type="matrix" values="0 0 0 -0.75 1 0 0 0 0 1 0 0 0 0 1 0 0 0 0 1" result="cr"/>
<feColorMatrix in="a" type="matrix" values="0 0 0 0 1 0 0 0 -0.75 1 0 0 0 0 1 0 0 0 0 1" result="cg"/>
<feColorMatrix in="ab" type="matrix" values="0 0 0 0 1 0 0 0 0 1 0 0 0 -0.75 1 0 0 0 0 1" result="cb"/>
<feBlend in="cr" in2="cg" mode="multiply" result="m"/>
<feBlend in="m" in2="cb" mode="multiply" result="rgb"/>
<feFlood x="2006" y="255" width="1" height="1" flood-color="#000" result="d"/>
<feOffset in="d" dx="0" dy="0" x="2003" y="252" width="6" height="6" result="c6"/>
<feTile in="c6" x="2003" y="252" width="24" height="24" result="t24"/>
<feOffset in="t24" dx="0" dy="0" x="2003" y="252" width="25" height="25" result="t25"/>
<feTile in="t25" x="2003" y="252" width="125" height="100" result="grid"/>
<feComposite in="rgb" in2="grid" operator="in" result="s"/>
<feMorphology in="s" operator="dilate" radius="3 0" result="hx"/>
<feColorMatrix in="hx" type="matrix" values="-1 0 0 0 1 0 -1 0 0 1 0 0 -1 0 1 0 0 0 1 0" result="ink"/>
<feMorphology in="ink" operator="dilate" radius="0 3" result="vy"/>
<feColorMatrix in="vy" type="matrix" values="-1 0 0 0 1 0 -1 0 0 1 0 0 -1 0 1 0 0 0 1 0" result="pix"/>
<feColorMatrix in="pix" type="matrix" values="1 0 0 0 0 1 0 0 0 0 1 0 0 0 0 0 0 0 0 1" result="gr"/>
<feColorMatrix in="pix" type="matrix" values="0 1 0 0 0 0 1 0 0 0 0 1 0 0 0 0 0 0 0 1" result="gg"/>
<feColorMatrix in="pix" type="matrix" values="0 0 1 0 0 0 0 1 0 0 0 0 1 0 0 0 0 0 0 1" result="gb"/>
<feBlend in="gr" in2="gg" mode="darken" result="d1"/>
<feBlend in="d1" in2="gb" mode="darken" result="mn"/>
<feColorMatrix in="mn" type="matrix" values="0 0 0 0 1 0 0 0 0 1 0 0 0 0 1 1.3333 0 0 0 -0.3333" result="wm"/>
<feComposite in="pix" in2="wm" operator="arithmetic" k1="0" k2="1" k3="-1" k4="0"/>
</filter>
<filter id="f21" filterUnits="userSpaceOnUse" primitiveUnits="userSpaceOnUse" x="503" y="2" width="75" height="100" color-interpolation-filters="sRGB">
<feOffset in="SourceAlpha" dx="1" dy="0" result="p0o"/><feComposite in="SourceAlpha" in2="p0o" operator="in" result="p0t"/><feComposite in="SourceAlpha" in2="p0t" operator="arithmetic" k1="0" k2="0.5" k3="0.5" k4="0" result="p0"/>
<feMorphology in="p0" operator="dilate" radius="0 1" result="p1"/>
<feOffset in="p1" dx="0" dy="0" result="th"/>
<feGaussianBlur in="th" stdDeviation="1.5 1.0" result="a"/>
<feOffset in="a" dx="2" dy="0" result="ar"/>
<feOffset in="a" dx="-2" dy="0" result="ab"/>
<feColorMatrix in="ar" type="matrix" values="0 0 0 -1.0 1 0 0 0 0 1 0 0 0 0 1 0 0 0 0 1" result="cr"/>
<feColorMatrix in="a" type="matrix" values="0 0 0 0 1 0 0 0 -1.0 1 0 0 0 0 1 0 0 0 0 1" result="cg"/>
<feColorMatrix in="ab" type="matrix" values="0 0 0 0 1 0 0 0 0 1 0 0 0 -1.0 1 0 0 0 0 1" result="cb"/>
<feBlend in="cr" in2="cg" mode="multiply" result="m"/>
<feBlend in="m" in2="cb" mode="multiply" result="rgb"/>
<feFlood x="506" y="5" width="1" height="1" flood-color="#000" result="d"/>
<feOffset in="d" dx="0" dy="0" x="503" y="2" width="6" height="6" result="c6"/>
<feTile in="c6" x="503" y="2" width="24" height="24" result="t24"/>
<feOffset in="t24" dx="0" dy="0" x="503" y="2" width="25" height="25" result="t25"/>
<feTile in="t25" x="503" y="2" width="75" height="100" result="grid"/>
<feComposite in="rgb" in2="grid" operator="in" result="s"/>
<feMorphology in="s" operator="dilate" radius="3 0" result="hx"/>
<feColorMatrix in="hx" type="matrix" values="-1 0 0 0 1 0 -1 0 0 1 0 0 -1 0 1 0 0 0 1 0" result="ink"/>
<feMorphology in="ink" operator="dilate" radius="0 3" result="vy"/>
<feColorMatrix in="vy" type="matrix" values="-1 0 0 0 1 0 -1 0 0 1 0 0 -1 0 1 0 0 0 1 0" result="pix"/>
<feColorMatrix in="pix" type="matrix" values="1 0 0 0 0 1 0 0 0 0 1 0 0 0 0 0 0 0 0 1" result="gr"/>
<feColorMatrix in="pix" type="matrix" values="0 1 0 0 0 0 1 0 0 0 0 1 0 0 0 0 0 0 0 1" result="gg"/>
<feColorMatrix in="pix" type="matrix" values="0 0 1 0 0 0 0 1 0 0 0 0 1 0 0 0 0 0 0 1" result="gb"/>
<feBlend in="gr" in2="gg" mode="darken" result="d1"/>
<feBlend in="d1" in2="gb" mode="darken" result="mn"/>
<feColorMatrix in="mn" type="matrix" values="0 0 0 0 1 0 0 0 0 1 0 0 0 0 1 1.0000 0 0 0 0.0000" result="wm"/>
<feComposite in="pix" in2="wm" operator="arithmetic" k1="0" k2="1" k3="-1" k4="0"/>
</filter>
<filter id="f22" filterUnits="userSpaceOnUse" primitiveUnits="userSpaceOnUse" x="628" y="2" width="200" height="100" color-interpolation-filters="sRGB">
<feOffset in="SourceAlpha" dx="1" dy="0" result="p0o"/><feComposite in="SourceAlpha" in2="p0o" operator="in" result="p0t"/><feComposite in="SourceAlpha" in2="p0t" operator="arithmetic" k1="0" k2="0.5" k3="0.5" k4="0" result="p0"/>
<feMorphology in="p0" operator="dilate" radius="0 1" result="p1"/>
<feOffset in="p1" dx="0" dy="0" result="th"/>
<feGaussianBlur in="th" stdDeviation="1.5 1.0" result="a"/>
<feOffset in="a" dx="2" dy="0" result="ar"/>
<feOffset in="a" dx="-2" dy="0" result="ab"/>
<feColorMatrix in="ar" type="matrix" values="0 0 0 -1.0 1 0 0 0 0 1 0 0 0 0 1 0 0 0 0 1" result="cr"/>
<feColorMatrix in="a" type="matrix" values="0 0 0 0 1 0 0 0 -1.0 1 0 0 0 0 1 0 0 0 0 1" result="cg"/>
<feColorMatrix in="ab" type="matrix" values="0 0 0 0 1 0 0 0 0 1 0 0 0 -1.0 1 0 0 0 0 1" result="cb"/>
<feBlend in="cr" in2="cg" mode="multiply" result="m"/>
<feBlend in="m" in2="cb" mode="multiply" result="rgb"/>
<feFlood x="631" y="5" width="1" height="1" flood-color="#000" result="d"/>
<feOffset in="d" dx="0" dy="0" x="628" y="2" width="6" height="6" result="c6"/>
<feTile in="c6" x="628" y="2" width="24" height="24" result="t24"/>
<feOffset in="t24" dx="0" dy="0" x="628" y="2" width="25" height="25" result="t25"/>
<feTile in="t25" x="628" y="2" width="200" height="100" result="grid"/>
<feComposite in="rgb" in2="grid" operator="in" result="s"/>
<feMorphology in="s" operator="dilate" radius="3 0" result="hx"/>
<feColorMatrix in="hx" type="matrix" values="-1 0 0 0 1 0 -1 0 0 1 0 0 -1 0 1 0 0 0 1 0" result="ink"/>
<feMorphology in="ink" operator="dilate" radius="0 3" result="vy"/>
<feColorMatrix in="vy" type="matrix" values="-1 0 0 0 1 0 -1 0 0 1 0 0 -1 0 1 0 0 0 1 0" result="pix"/>
<feColorMatrix in="pix" type="matrix" values="1 0 0 0 0 1 0 0 0 0 1 0 0 0 0 0 0 0 0 1" result="gr"/>
<feColorMatrix in="pix" type="matrix" values="0 1 0 0 0 0 1 0 0 0 0 1 0 0 0 0 0 0 0 1" result="gg"/>
<feColorMatrix in="pix" type="matrix" values="0 0 1 0 0 0 0 1 0 0 0 0 1 0 0 0 0 0 0 1" result="gb"/>
<feBlend in="gr" in2="gg" mode="darken" result="d1"/>
<feBlend in="d1" in2="gb" mode="darken" result="mn"/>
<feColorMatrix in="mn" type="matrix" values="0 0 0 0 1 0 0 0 0 1 0 0 0 0 1 1.0000 0 0 0 0.0000" result="wm"/>
<feComposite in="pix" in2="wm" operator="arithmetic" k1="0" k2="1" k3="-1" k4="0"/>
</filter>
<filter id="f23" filterUnits="userSpaceOnUse" primitiveUnits="userSpaceOnUse" x="878" y="2" width="100" height="100" color-interpolation-filters="sRGB">
<feOffset in="SourceAlpha" dx="1" dy="0" result="p0o"/><feComposite in="SourceAlpha" in2="p0o" operator="in" result="p0t"/><feComposite in="SourceAlpha" in2="p0t" operator="arithmetic" k1="0" k2="0.5" k3="0.5" k4="0" result="p0"/>
<feMorphology in="p0" operator="dilate" radius="0 1" result="p1"/>
<feOffset in="p1" dx="0" dy="0" result="th"/>
<feGaussianBlur in="th" stdDeviation="1.5 1.0" result="a"/>
<feOffset in="a" dx="2" dy="0" result="ar"/>
<feOffset in="a" dx="-2" dy="0" result="ab"/>
<feColorMatrix in="ar" type="matrix" values="0 0 0 -1.0 1 0 0 0 0 1 0 0 0 0 1 0 0 0 0 1" result="cr"/>
<feColorMatrix in="a" type="matrix" values="0 0 0 0 1 0 0 0 -1.0 1 0 0 0 0 1 0 0 0 0 1" result="cg"/>
<feColorMatrix in="ab" type="matrix" values="0 0 0 0 1 0 0 0 0 1 0 0 0 -1.0 1 0 0 0 0 1" result="cb"/>
<feBlend in="cr" in2="cg" mode="multiply" result="m"/>
<feBlend in="m" in2="cb" mode="multiply" result="rgb"/>
<feFlood x="881" y="5" width="1" height="1" flood-color="#000" result="d"/>
<feOffset in="d" dx="0" dy="0" x="878" y="2" width="6" height="6" result="c6"/>
<feTile in="c6" x="878" y="2" width="24" height="24" result="t24"/>
<feOffset in="t24" dx="0" dy="0" x="878" y="2" width="25" height="25" result="t25"/>
<feTile in="t25" x="878" y="2" width="100" height="100" result="grid"/>
<feComposite in="rgb" in2="grid" operator="in" result="s"/>
<feMorphology in="s" operator="dilate" radius="3 0" result="hx"/>
<feColorMatrix in="hx" type="matrix" values="-1 0 0 0 1 0 -1 0 0 1 0 0 -1 0 1 0 0 0 1 0" result="ink"/>
<feMorphology in="ink" operator="dilate" radius="0 3" result="vy"/>
<feColorMatrix in="vy" type="matrix" values="-1 0 0 0 1 0 -1 0 0 1 0 0 -1 0 1 0 0 0 1 0" result="pix"/>
<feColorMatrix in="pix" type="matrix" values="1 0 0 0 0 1 0 0 0 0 1 0 0 0 0 0 0 0 0 1" result="gr"/>
<feColorMatrix in="pix" type="matrix" values="0 1 0 0 0 0 1 0 0 0 0 1 0 0 0 0 0 0 0 1" result="gg"/>
<feColorMatrix in="pix" type="matrix" values="0 0 1 0 0 0 0 1 0 0 0 0 1 0 0 0 0 0 0 1" result="gb"/>
<feBlend in="gr" in2="gg" mode="darken" result="d1"/>
<feBlend in="d1" in2="gb" mode="darken" result="mn"/>
<feColorMatrix in="mn" type="matrix" values="0 0 0 0 1 0 0 0 0 1 0 0 0 0 1 1.0000 0 0 0 0.0000" result="wm"/>
<feComposite in="pix" in2="wm" operator="arithmetic" k1="0" k2="1" k3="-1" k4="0"/>
</filter>
<filter id="f24" filterUnits="userSpaceOnUse" primitiveUnits="userSpaceOnUse" x="1028" y="2" width="200" height="100" color-interpolation-filters="sRGB">
<feOffset in="SourceAlpha" dx="1" dy="0" result="p0o"/><feComposite in="SourceAlpha" in2="p0o" operator="in" result="p0t"/><feComposite in="SourceAlpha" in2="p0t" operator="arithmetic" k1="0" k2="0.5" k3="0.5" k4="0" result="p0"/>
<feMorphology in="p0" operator="dilate" radius="0 1" result="p1"/>
<feOffset in="p1" dx="0" dy="0" result="th"/>
<feGaussianBlur in="th" stdDeviation="1.5 1.0" result="a"/>
<feOffset in="a" dx="2" dy="0" result="ar"/>
<feOffset in="a" dx="-2" dy="0" result="ab"/>
<feColorMatrix in="ar" type="matrix" values="0 0 0 -1.0 1 0 0 0 0 1 0 0 0 0 1 0 0 0 0 1" result="cr"/>
<feColorMatrix in="a" type="matrix" values="0 0 0 0 1 0 0 0 -1.0 1 0 0 0 0 1 0 0 0 0 1" result="cg"/>
<feColorMatrix in="ab" type="matrix" values="0 0 0 0 1 0 0 0 0 1 0 0 0 -1.0 1 0 0 0 0 1" result="cb"/>
<feBlend in="cr" in2="cg" mode="multiply" result="m"/>
<feBlend in="m" in2="cb" mode="multiply" result="rgb"/>
<feFlood x="1031" y="5" width="1" height="1" flood-color="#000" result="d"/>
<feOffset in="d" dx="0" dy="0" x="1028" y="2" width="6" height="6" result="c6"/>
<feTile in="c6" x="1028" y="2" width="24" height="24" result="t24"/>
<feOffset in="t24" dx="0" dy="0" x="1028" y="2" width="25" height="25" result="t25"/>
<feTile in="t25" x="1028" y="2" width="200" height="100" result="grid"/>
<feComposite in="rgb" in2="grid" operator="in" result="s"/>
<feMorphology in="s" operator="dilate" radius="3 0" result="hx"/>
<feColorMatrix in="hx" type="matrix" values="-1 0 0 0 1 0 -1 0 0 1 0 0 -1 0 1 0 0 0 1 0" result="ink"/>
<feMorphology in="ink" operator="dilate" radius="0 3" result="vy"/>
<feColorMatrix in="vy" type="matrix" values="-1 0 0 0 1 0 -1 0 0 1 0 0 -1 0 1 0 0 0 1 0" result="pix"/>
<feColorMatrix in="pix" type="matrix" values="1 0 0 0 0 1 0 0 0 0 1 0 0 0 0 0 0 0 0 1" result="gr"/>
<feColorMatrix in="pix" type="matrix" values="0 1 0 0 0 0 1 0 0 0 0 1 0 0 0 0 0 0 0 1" result="gg"/>
<feColorMatrix in="pix" type="matrix" values="0 0 1 0 0 0 0 1 0 0 0 0 1 0 0 0 0 0 0 1" result="gb"/>
<feBlend in="gr" in2="gg" mode="darken" result="d1"/>
<feBlend in="d1" in2="gb" mode="darken" result="mn"/>
<feColorMatrix in="mn" type="matrix" values="0 0 0 0 1 0 0 0 0 1 0 0 0 0 1 1.0000 0 0 0 0.0000" result="wm"/>
<feComposite in="pix" in2="wm" operator="arithmetic" k1="0" k2="1" k3="-1" k4="0"/>
</filter>
<filter id="f25" filterUnits="userSpaceOnUse" primitiveUnits="userSpaceOnUse" x="1278" y="2" width="100" height="100" color-interpolation-filters="sRGB">
<feOffset in="SourceAlpha" dx="1" dy="0" result="p0o"/><feComposite in="SourceAlpha" in2="p0o" operator="in" result="p0t"/><feComposite in="SourceAlpha" in2="p0t" operator="arithmetic" k1="0" k2="0.5" k3="0.5" k4="0" result="p0"/>
<feMorphology in="p0" operator="dilate" radius="0 1" result="p1"/>
<feOffset in="p1" dx="0" dy="0" result="th"/>
<feGaussianBlur in="th" stdDeviation="1.5 1.0" result="a"/>
<feOffset in="a" dx="2" dy="0" result="ar"/>
<feOffset in="a" dx="-2" dy="0" result="ab"/>
<feColorMatrix in="ar" type="matrix" values="0 0 0 -1.0 1 0 0 0 0 1 0 0 0 0 1 0 0 0 0 1" result="cr"/>
<feColorMatrix in="a" type="matrix" values="0 0 0 0 1 0 0 0 -1.0 1 0 0 0 0 1 0 0 0 0 1" result="cg"/>
<feColorMatrix in="ab" type="matrix" values="0 0 0 0 1 0 0 0 0 1 0 0 0 -1.0 1 0 0 0 0 1" result="cb"/>
<feBlend in="cr" in2="cg" mode="multiply" result="m"/>
<feBlend in="m" in2="cb" mode="multiply" result="rgb"/>
<feFlood x="1281" y="5" width="1" height="1" flood-color="#000" result="d"/>
<feOffset in="d" dx="0" dy="0" x="1278" y="2" width="6" height="6" result="c6"/>
<feTile in="c6" x="1278" y="2" width="24" height="24" result="t24"/>
<feOffset in="t24" dx="0" dy="0" x="1278" y="2" width="25" height="25" result="t25"/>
<feTile in="t25" x="1278" y="2" width="100" height="100" result="grid"/>
<feComposite in="rgb" in2="grid" operator="in" result="s"/>
<feMorphology in="s" operator="dilate" radius="3 0" result="hx"/>
<feColorMatrix in="hx" type="matrix" values="-1 0 0 0 1 0 -1 0 0 1 0 0 -1 0 1 0 0 0 1 0" result="ink"/>
<feMorphology in="ink" operator="dilate" radius="0 3" result="vy"/>
<feColorMatrix in="vy" type="matrix" values="-1 0 0 0 1 0 -1 0 0 1 0 0 -1 0 1 0 0 0 1 0" result="pix"/>
<feColorMatrix in="pix" type="matrix" values="1 0 0 0 0 1 0 0 0 0 1 0 0 0 0 0 0 0 0 1" result="gr"/>
<feColorMatrix in="pix" type="matrix" values="0 1 0 0 0 0 1 0 0 0 0 1 0 0 0 0 0 0 0 1" result="gg"/>
<feColorMatrix in="pix" type="matrix" values="0 0 1 0 0 0 0 1 0 0 0 0 1 0 0 0 0 0 0 1" result="gb"/>
<feBlend in="gr" in2="gg" mode="darken" result="d1"/>
<feBlend in="d1" in2="gb" mode="darken" result="mn"/>
<feColorMatrix in="mn" type="matrix" values="0 0 0 0 1 0 0 0 0 1 0 0 0 0 1 1.0000 0 0 0 0.0000" result="wm"/>
<feComposite in="pix" in2="wm" operator="arithmetic" k1="0" k2="1" k3="-1" k4="0"/>
</filter>
<filter id="f26" filterUnits="userSpaceOnUse" primitiveUnits="userSpaceOnUse" x="1428" y="2" width="200" height="100" color-interpolation-filters="sRGB">
<feOffset in="SourceAlpha" dx="1" dy="0" result="p0o"/><feComposite in="SourceAlpha" in2="p0o" operator="in" result="p0t"/><feComposite in="SourceAlpha" in2="p0t" operator="arithmetic" k1="0" k2="0.5" k3="0.5" k4="0" result="p0"/>
<feMorphology in="p0" operator="dilate" radius="0 1" result="p1"/>
<feOffset in="p1" dx="0" dy="0" result="th"/>
<feGaussianBlur in="th" stdDeviation="1.5 1.0" result="a"/>
<feOffset in="a" dx="2" dy="0" result="ar"/>
<feOffset in="a" dx="-2" dy="0" result="ab"/>
<feColorMatrix in="ar" type="matrix" values="0 0 0 -1.0 1 0 0 0 0 1 0 0 0 0 1 0 0 0 0 1" result="cr"/>
<feColorMatrix in="a" type="matrix" values="0 0 0 0 1 0 0 0 -1.0 1 0 0 0 0 1 0 0 0 0 1" result="cg"/>
<feColorMatrix in="ab" type="matrix" values="0 0 0 0 1 0 0 0 0 1 0 0 0 -1.0 1 0 0 0 0 1" result="cb"/>
<feBlend in="cr" in2="cg" mode="multiply" result="m"/>
<feBlend in="m" in2="cb" mode="multiply" result="rgb"/>
<feFlood x="1431" y="5" width="1" height="1" flood-color="#000" result="d"/>
<feOffset in="d" dx="0" dy="0" x="1428" y="2" width="6" height="6" result="c6"/>
<feTile in="c6" x="1428" y="2" width="24" height="24" result="t24"/>
<feOffset in="t24" dx="0" dy="0" x="1428" y="2" width="25" height="25" result="t25"/>
<feTile in="t25" x="1428" y="2" width="200" height="100" result="grid"/>
<feComposite in="rgb" in2="grid" operator="in" result="s"/>
<feMorphology in="s" operator="dilate" radius="3 0" result="hx"/>
<feColorMatrix in="hx" type="matrix" values="-1 0 0 0 1 0 -1 0 0 1 0 0 -1 0 1 0 0 0 1 0" result="ink"/>
<feMorphology in="ink" operator="dilate" radius="0 3" result="vy"/>
<feColorMatrix in="vy" type="matrix" values="-1 0 0 0 1 0 -1 0 0 1 0 0 -1 0 1 0 0 0 1 0" result="pix"/>
<feColorMatrix in="pix" type="matrix" values="1 0 0 0 0 1 0 0 0 0 1 0 0 0 0 0 0 0 0 1" result="gr"/>
<feColorMatrix in="pix" type="matrix" values="0 1 0 0 0 0 1 0 0 0 0 1 0 0 0 0 0 0 0 1" result="gg"/>
<feColorMatrix in="pix" type="matrix" values="0 0 1 0 0 0 0 1 0 0 0 0 1 0 0 0 0 0 0 1" result="gb"/>
<feBlend in="gr" in2="gg" mode="darken" result="d1"/>
<feBlend in="d1" in2="gb" mode="darken" result="mn"/>
<feColorMatrix in="mn" type="matrix" values="0 0 0 0 1 0 0 0 0 1 0 0 0 0 1 1.0000 0 0 0 0.0000" result="wm"/>
<feComposite in="pix" in2="wm" operator="arithmetic" k1="0" k2="1" k3="-1" k4="0"/>
</filter>
<filter id="f27" filterUnits="userSpaceOnUse" primitiveUnits="userSpaceOnUse" x="1653" y="2" width="125" height="100" color-interpolation-filters="sRGB">
<feOffset in="SourceAlpha" dx="1" dy="0" result="p0o"/><feComposite in="SourceAlpha" in2="p0o" operator="in" result="p0t"/><feComposite in="SourceAlpha" in2="p0t" operator="arithmetic" k1="0" k2="0.5" k3="0.5" k4="0" result="p0"/>
<feMorphology in="p0" operator="dilate" radius="0 1" result="p1"/>
<feOffset in="p1" dx="0" dy="0" result="th"/>
<feGaussianBlur in="th" stdDeviation="1.5 1.0" result="a"/>
<feOffset in="a" dx="2" dy="0" result="ar"/>
<feOffset in="a" dx="-2" dy="0" result="ab"/>
<feColorMatrix in="ar" type="matrix" values="0 0 0 -1.0 1 0 0 0 0 1 0 0 0 0 1 0 0 0 0 1" result="cr"/>
<feColorMatrix in="a" type="matrix" values="0 0 0 0 1 0 0 0 -1.0 1 0 0 0 0 1 0 0 0 0 1" result="cg"/>
<feColorMatrix in="ab" type="matrix" values="0 0 0 0 1 0 0 0 0 1 0 0 0 -1.0 1 0 0 0 0 1" result="cb"/>
<feBlend in="cr" in2="cg" mode="multiply" result="m"/>
<feBlend in="m" in2="cb" mode="multiply" result="rgb"/>
<feFlood x="1656" y="5" width="1" height="1" flood-color="#000" result="d"/>
<feOffset in="d" dx="0" dy="0" x="1653" y="2" width="6" height="6" result="c6"/>
<feTile in="c6" x="1653" y="2" width="24" height="24" result="t24"/>
<feOffset in="t24" dx="0" dy="0" x="1653" y="2" width="25" height="25" result="t25"/>
<feTile in="t25" x="1653" y="2" width="125" height="100" result="grid"/>
<feComposite in="rgb" in2="grid" operator="in" result="s"/>
<feMorphology in="s" operator="dilate" radius="3 0" result="hx"/>
<feColorMatrix in="hx" type="matrix" values="-1 0 0 0 1 0 -1 0 0 1 0 0 -1 0 1 0 0 0 1 0" result="ink"/>
<feMorphology in="ink" operator="dilate" radius="0 3" result="vy"/>
<feColorMatrix in="vy" type="matrix" values="-1 0 0 0 1 0 -1 0 0 1 0 0 -1 0 1 0 0 0 1 0" result="pix"/>
<feColorMatrix in="pix" type="matrix" values="1 0 0 0 0 1 0 0 0 0 1 0 0 0 0 0 0 0 0 1" result="gr"/>
<feColorMatrix in="pix" type="matrix" values="0 1 0 0 0 0 1 0 0 0 0 1 0 0 0 0 0 0 0 1" result="gg"/>
<feColorMatrix in="pix" type="matrix" values="0 0 1 0 0 0 0 1 0 0 0 0 1 0 0 0 0 0 0 1" result="gb"/>
<feBlend in="gr" in2="gg" mode="darken" result="d1"/>
<feBlend in="d1" in2="gb" mode="darken" result="mn"/>
<feColorMatrix in="mn" type="matrix" values="0 0 0 0 1 0 0 0 0 1 0 0 0 0 1 1.0000 0 0 0 0.0000" result="wm"/>
<feComposite in="pix" in2="wm" operator="arithmetic" k1="0" k2="1" k3="-1" k4="0"/>
</filter>
<filter id="f28" filterUnits="userSpaceOnUse" primitiveUnits="userSpaceOnUse" x="1803" y="2" width="225" height="100" color-interpolation-filters="sRGB">
<feOffset in="SourceAlpha" dx="1" dy="0" result="p0o"/><feComposite in="SourceAlpha" in2="p0o" operator="in" result="p0t"/><feComposite in="SourceAlpha" in2="p0t" operator="arithmetic" k1="0" k2="0.5" k3="0.5" k4="0" result="p0"/>
<feMorphology in="p0" operator="dilate" radius="0 1" result="p1"/>
<feOffset in="p1" dx="0" dy="0" result="th"/>
<feGaussianBlur in="th" stdDeviation="1.5 1.0" result="a"/>
<feOffset in="a" dx="2" dy="0" result="ar"/>
<feOffset in="a" dx="-2" dy="0" result="ab"/>
<feColorMatrix in="ar" type="matrix" values="0 0 0 -1.0 1 0 0 0 0 1 0 0 0 0 1 0 0 0 0 1" result="cr"/>
<feColorMatrix in="a" type="matrix" values="0 0 0 0 1 0 0 0 -1.0 1 0 0 0 0 1 0 0 0 0 1" result="cg"/>
<feColorMatrix in="ab" type="matrix" values="0 0 0 0 1 0 0 0 0 1 0 0 0 -1.0 1 0 0 0 0 1" result="cb"/>
<feBlend in="cr" in2="cg" mode="multiply" result="m"/>
<feBlend in="m" in2="cb" mode="multiply" result="rgb"/>
<feFlood x="1806" y="5" width="1" height="1" flood-color="#000" result="d"/>
<feOffset in="d" dx="0" dy="0" x="1803" y="2" width="6" height="6" result="c6"/>
<feTile in="c6" x="1803" y="2" width="24" height="24" result="t24"/>
<feOffset in="t24" dx="0" dy="0" x="1803" y="2" width="25" height="25" result="t25"/>
<feTile in="t25" x="1803" y="2" width="225" height="100" result="grid"/>
<feComposite in="rgb" in2="grid" operator="in" result="s"/>
<feMorphology in="s" operator="dilate" radius="3 0" result="hx"/>
<feColorMatrix in="hx" type="matrix" values="-1 0 0 0 1 0 -1 0 0 1 0 0 -1 0 1 0 0 0 1 0" result="ink"/>
<feMorphology in="ink" operator="dilate" radius="0 3" result="vy"/>
<feColorMatrix in="vy" type="matrix" values="-1 0 0 0 1 0 -1 0 0 1 0 0 -1 0 1 0 0 0 1 0" result="pix"/>
<feColorMatrix in="pix" type="matrix" values="1 0 0 0 0 1 0 0 0 0 1 0 0 0 0 0 0 0 0 1" result="gr"/>
<feColorMatrix in="pix" type="matrix" values="0 1 0 0 0 0 1 0 0 0 0 1 0 0 0 0 0 0 0 1" result="gg"/>
<feColorMatrix in="pix" type="matrix" values="0 0 1 0 0 0 0 1 0 0 0 0 1 0 0 0 0 0 0 1" result="gb"/>
<feBlend in="gr" in2="gg" mode="darken" result="d1"/>
<feBlend in="d1" in2="gb" mode="darken" result="mn"/>
<feColorMatrix in="mn" type="matrix" values="0 0 0 0 1 0 0 0 0 1 0 0 0 0 1 1.0000 0 0 0 0.0000" result="wm"/>
<feComposite in="pix" in2="wm" operator="arithmetic" k1="0" k2="1" k3="-1" k4="0"/>
</filter>
<filter id="f29" filterUnits="userSpaceOnUse" primitiveUnits="userSpaceOnUse" x="103" y="52" width="125" height="100" color-interpolation-filters="sRGB">
<feOffset in="SourceAlpha" dx="1" dy="0" result="p0o"/><feComposite in="SourceAlpha" in2="p0o" operator="in" result="p0t"/><feComposite in="SourceAlpha" in2="p0t" operator="arithmetic" k1="0" k2="0.5" k3="0.5" k4="0" result="p0"/>
<feMorphology in="p0" operator="dilate" radius="0 1" result="p1"/>
<feOffset in="p1" dx="0" dy="0" result="th"/>
<feGaussianBlur in="th" stdDeviation="1.5 1.0" result="a"/>
<feOffset in="a" dx="2" dy="0" result="ar"/>
<feOffset in="a" dx="-2" dy="0" result="ab"/>
<feColorMatrix in="ar" type="matrix" values="0 0 0 -1.0 1 0 0 0 0 1 0 0 0 0 1 0 0 0 0 1" result="cr"/>
<feColorMatrix in="a" type="matrix" values="0 0 0 0 1 0 0 0 -1.0 1 0 0 0 0 1 0 0 0 0 1" result="cg"/>
<feColorMatrix in="ab" type="matrix" values="0 0 0 0 1 0 0 0 0 1 0 0 0 -1.0 1 0 0 0 0 1" result="cb"/>
<feBlend in="cr" in2="cg" mode="multiply" result="m"/>
<feBlend in="m" in2="cb" mode="multiply" result="rgb"/>
<feFlood x="106" y="55" width="1" height="1" flood-color="#000" result="d"/>
<feOffset in="d" dx="0" dy="0" x="103" y="52" width="6" height="6" result="c6"/>
<feTile in="c6" x="103" y="52" width="24" height="24" result="t24"/>
<feOffset in="t24" dx="0" dy="0" x="103" y="52" width="25" height="25" result="t25"/>
<feTile in="t25" x="103" y="52" width="125" height="100" result="grid"/>
<feComposite in="rgb" in2="grid" operator="in" result="s"/>
<feMorphology in="s" operator="dilate" radius="3 0" result="hx"/>
<feColorMatrix in="hx" type="matrix" values="-1 0 0 0 1 0 -1 0 0 1 0 0 -1 0 1 0 0 0 1 0" result="ink"/>
<feMorphology in="ink" operator="dilate" radius="0 3" result="vy"/>
<feColorMatrix in="vy" type="matrix" values="-1 0 0 0 1 0 -1 0 0 1 0 0 -1 0 1 0 0 0 1 0" result="pix"/>
<feColorMatrix in="pix" type="matrix" values="1 0 0 0 0 1 0 0 0 0 1 0 0 0 0 0 0 0 0 1" result="gr"/>
<feColorMatrix in="pix" type="matrix" values="0 1 0 0 0 0 1 0 0 0 0 1 0 0 0 0 0 0 0 1" result="gg"/>
<feColorMatrix in="pix" type="matrix" values="0 0 1 0 0 0 0 1 0 0 0 0 1 0 0 0 0 0 0 1" result="gb"/>
<feBlend in="gr" in2="gg" mode="darken" result="d1"/>
<feBlend in="d1" in2="gb" mode="darken" result="mn"/>
<feColorMatrix in="mn" type="matrix" values="0 0 0 0 1 0 0 0 0 1 0 0 0 0 1 1.0000 0 0 0 0.0000" result="wm"/>
<feComposite in="pix" in2="wm" operator="arithmetic" k1="0" k2="1" k3="-1" k4="0"/>
</filter>
<filter id="f30" filterUnits="userSpaceOnUse" primitiveUnits="userSpaceOnUse" x="103" y="252" width="125" height="125" color-interpolation-filters="sRGB">
<feOffset in="SourceAlpha" dx="1" dy="0" result="p0o"/><feComposite in="SourceAlpha" in2="p0o" operator="in" result="p0t"/><feComposite in="SourceAlpha" in2="p0t" operator="arithmetic" k1="0" k2="0.5" k3="0.5" k4="0" result="p0"/>
<feMorphology in="p0" operator="dilate" radius="0 1" result="p1"/>
<feOffset in="p1" dx="0" dy="0" result="th"/>
<feGaussianBlur in="th" stdDeviation="1.5 1.0" result="a"/>
<feOffset in="a" dx="2" dy="0" result="ar"/>
<feOffset in="a" dx="-2" dy="0" result="ab"/>
<feColorMatrix in="ar" type="matrix" values="0 0 0 -1.0 1 0 0 0 0 1 0 0 0 0 1 0 0 0 0 1" result="cr"/>
<feColorMatrix in="a" type="matrix" values="0 0 0 0 1 0 0 0 -1.0 1 0 0 0 0 1 0 0 0 0 1" result="cg"/>
<feColorMatrix in="ab" type="matrix" values="0 0 0 0 1 0 0 0 0 1 0 0 0 -1.0 1 0 0 0 0 1" result="cb"/>
<feBlend in="cr" in2="cg" mode="multiply" result="m"/>
<feBlend in="m" in2="cb" mode="multiply" result="rgb"/>
<feFlood x="106" y="255" width="1" height="1" flood-color="#000" result="d"/>
<feOffset in="d" dx="0" dy="0" x="103" y="252" width="6" height="6" result="c6"/>
<feTile in="c6" x="103" y="252" width="24" height="24" result="t24"/>
<feOffset in="t24" dx="0" dy="0" x="103" y="252" width="25" height="25" result="t25"/>
<feTile in="t25" x="103" y="252" width="125" height="125" result="grid"/>
<feComposite in="rgb" in2="grid" operator="in" result="s"/>
<feMorphology in="s" operator="dilate" radius="3 0" result="hx"/>
<feColorMatrix in="hx" type="matrix" values="-1 0 0 0 1 0 -1 0 0 1 0 0 -1 0 1 0 0 0 1 0" result="ink"/>
<feMorphology in="ink" operator="dilate" radius="0 3" result="vy"/>
<feColorMatrix in="vy" type="matrix" values="-1 0 0 0 1 0 -1 0 0 1 0 0 -1 0 1 0 0 0 1 0" result="pix"/>
<feColorMatrix in="pix" type="matrix" values="1 0 0 0 0 1 0 0 0 0 1 0 0 0 0 0 0 0 0 1" result="gr"/>
<feColorMatrix in="pix" type="matrix" values="0 1 0 0 0 0 1 0 0 0 0 1 0 0 0 0 0 0 0 1" result="gg"/>
<feColorMatrix in="pix" type="matrix" values="0 0 1 0 0 0 0 1 0 0 0 0 1 0 0 0 0 0 0 1" result="gb"/>
<feBlend in="gr" in2="gg" mode="darken" result="d1"/>
<feBlend in="d1" in2="gb" mode="darken" result="mn"/>
<feColorMatrix in="mn" type="matrix" values="0 0 0 0 1 0 0 0 0 1 0 0 0 0 1 1.0000 0 0 0 0.0000" result="wm"/>
<feComposite in="pix" in2="wm" operator="arithmetic" k1="0" k2="1" k3="-1" k4="0"/>
</filter>
<filter id="f31" filterUnits="userSpaceOnUse" primitiveUnits="userSpaceOnUse" x="103" y="452" width="125" height="125" color-interpolation-filters="sRGB">
<feOffset in="SourceAlpha" dx="1" dy="0" result="p0o"/><feComposite in="SourceAlpha" in2="p0o" operator="in" result="p0t"/><feComposite in="SourceAlpha" in2="p0t" operator="arithmetic" k1="0" k2="0.5" k3="0.5" k4="0" result="p0"/>
<feMorphology in="p0" operator="dilate" radius="0 1" result="p1"/>
<feOffset in="p1" dx="0" dy="0" result="th"/>
<feGaussianBlur in="th" stdDeviation="1.5 1.0" result="a"/>
<feOffset in="a" dx="2" dy="0" result="ar"/>
<feOffset in="a" dx="-2" dy="0" result="ab"/>
<feColorMatrix in="ar" type="matrix" values="0 0 0 -1.0 1 0 0 0 0 1 0 0 0 0 1 0 0 0 0 1" result="cr"/>
<feColorMatrix in="a" type="matrix" values="0 0 0 0 1 0 0 0 -1.0 1 0 0 0 0 1 0 0 0 0 1" result="cg"/>
<feColorMatrix in="ab" type="matrix" values="0 0 0 0 1 0 0 0 0 1 0 0 0 -1.0 1 0 0 0 0 1" result="cb"/>
<feBlend in="cr" in2="cg" mode="multiply" result="m"/>
<feBlend in="m" in2="cb" mode="multiply" result="rgb"/>
<feFlood x="106" y="455" width="1" height="1" flood-color="#000" result="d"/>
<feOffset in="d" dx="0" dy="0" x="103" y="452" width="6" height="6" result="c6"/>
<feTile in="c6" x="103" y="452" width="24" height="24" result="t24"/>
<feOffset in="t24" dx="0" dy="0" x="103" y="452" width="25" height="25" result="t25"/>
<feTile in="t25" x="103" y="452" width="125" height="125" result="grid"/>
<feComposite in="rgb" in2="grid" operator="in" result="s"/>
<feMorphology in="s" operator="dilate" radius="3 0" result="hx"/>
<feColorMatrix in="hx" type="matrix" values="-1 0 0 0 1 0 -1 0 0 1 0 0 -1 0 1 0 0 0 1 0" result="ink"/>
<feMorphology in="ink" operator="dilate" radius="0 3" result="vy"/>
<feColorMatrix in="vy" type="matrix" values="-1 0 0 0 1 0 -1 0 0 1 0 0 -1 0 1 0 0 0 1 0" result="pix"/>
<feColorMatrix in="pix" type="matrix" values="1 0 0 0 0 1 0 0 0 0 1 0 0 0 0 0 0 0 0 1" result="gr"/>
<feColorMatrix in="pix" type="matrix" values="0 1 0 0 0 0 1 0 0 0 0 1 0 0 0 0 0 0 0 1" result="gg"/>
<feColorMatrix in="pix" type="matrix" values="0 0 1 0 0 0 0 1 0 0 0 0 1 0 0 0 0 0 0 1" result="gb"/>
<feBlend in="gr" in2="gg" mode="darken" result="d1"/>
<feBlend in="d1" in2="gb" mode="darken" result="mn"/>
<feColorMatrix in="mn" type="matrix" values="0 0 0 0 1 0 0 0 0 1 0 0 0 0 1 1.0000 0 0 0 0.0000" result="wm"/>
<feComposite in="pix" in2="wm" operator="arithmetic" k1="0" k2="1" k3="-1" k4="0"/>
</filter>
<filter id="f32" filterUnits="userSpaceOnUse" primitiveUnits="userSpaceOnUse" x="103" y="677" width="125" height="100" color-interpolation-filters="sRGB">
<feOffset in="SourceAlpha" dx="1" dy="0" result="p0o"/><feComposite in="SourceAlpha" in2="p0o" operator="in" result="p0t"/><feComposite in="SourceAlpha" in2="p0t" operator="arithmetic" k1="0" k2="0.5" k3="0.5" k4="0" result="p0"/>
<feMorphology in="p0" operator="dilate" radius="0 1" result="p1"/>
<feOffset in="p1" dx="0" dy="0" result="th"/>
<feGaussianBlur in="th" stdDeviation="1.5 1.0" result="a"/>
<feOffset in="a" dx="2" dy="0" result="ar"/>
<feOffset in="a" dx="-2" dy="0" result="ab"/>
<feColorMatrix in="ar" type="matrix" values="0 0 0 -1.0 1 0 0 0 0 1 0 0 0 0 1 0 0 0 0 1" result="cr"/>
<feColorMatrix in="a" type="matrix" values="0 0 0 0 1 0 0 0 -1.0 1 0 0 0 0 1 0 0 0 0 1" result="cg"/>
<feColorMatrix in="ab" type="matrix" values="0 0 0 0 1 0 0 0 0 1 0 0 0 -1.0 1 0 0 0 0 1" result="cb"/>
<feBlend in="cr" in2="cg" mode="multiply" result="m"/>
<feBlend in="m" in2="cb" mode="multiply" result="rgb"/>
<feFlood x="106" y="680" width="1" height="1" flood-color="#000" result="d"/>
<feOffset in="d" dx="0" dy="0" x="103" y="677" width="6" height="6" result="c6"/>
<feTile in="c6" x="103" y="677" width="24" height="24" result="t24"/>
<feOffset in="t24" dx="0" dy="0" x="103" y="677" width="25" height="25" result="t25"/>
<feTile in="t25" x="103" y="677" width="125" height="100" result="grid"/>
<feComposite in="rgb" in2="grid" operator="in" result="s"/>
<feMorphology in="s" operator="dilate" radius="3 0" result="hx"/>
<feColorMatrix in="hx" type="matrix" values="-1 0 0 0 1 0 -1 0 0 1 0 0 -1 0 1 0 0 0 1 0" result="ink"/>
<feMorphology in="ink" operator="dilate" radius="0 3" result="vy"/>
<feColorMatrix in="vy" type="matrix" values="-1 0 0 0 1 0 -1 0 0 1 0 0 -1 0 1 0 0 0 1 0" result="pix"/>
<feColorMatrix in="pix" type="matrix" values="1 0 0 0 0 1 0 0 0 0 1 0 0 0 0 0 0 0 0 1" result="gr"/>
<feColorMatrix in="pix" type="matrix" values="0 1 0 0 0 0 1 0 0 0 0 1 0 0 0 0 0 0 0 1" result="gg"/>
<feColorMatrix in="pix" type="matrix" values="0 0 1 0 0 0 0 1 0 0 0 0 1 0 0 0 0 0 0 1" result="gb"/>
<feBlend in="gr" in2="gg" mode="darken" result="d1"/>
<feBlend in="d1" in2="gb" mode="darken" result="mn"/>
<feColorMatrix in="mn" type="matrix" values="0 0 0 0 1 0 0 0 0 1 0 0 0 0 1 1.0000 0 0 0 0.0000" result="wm"/>
<feComposite in="pix" in2="wm" operator="arithmetic" k1="0" k2="1" k3="-1" k4="0"/>
</filter>
<filter id="f33" filterUnits="userSpaceOnUse" primitiveUnits="userSpaceOnUse" x="103" y="877" width="125" height="100" color-interpolation-filters="sRGB">
<feOffset in="SourceAlpha" dx="1" dy="0" result="p0o"/><feComposite in="SourceAlpha" in2="p0o" operator="in" result="p0t"/><feComposite in="SourceAlpha" in2="p0t" operator="arithmetic" k1="0" k2="0.5" k3="0.5" k4="0" result="p0"/>
<feMorphology in="p0" operator="dilate" radius="0 1" result="p1"/>
<feOffset in="p1" dx="0" dy="0" result="th"/>
<feGaussianBlur in="th" stdDeviation="1.5 1.0" result="a"/>
<feOffset in="a" dx="2" dy="0" result="ar"/>
<feOffset in="a" dx="-2" dy="0" result="ab"/>
<feColorMatrix in="ar" type="matrix" values="0 0 0 -1.0 1 0 0 0 0 1 0 0 0 0 1 0 0 0 0 1" result="cr"/>
<feColorMatrix in="a" type="matrix" values="0 0 0 0 1 0 0 0 -1.0 1 0 0 0 0 1 0 0 0 0 1" result="cg"/>
<feColorMatrix in="ab" type="matrix" values="0 0 0 0 1 0 0 0 0 1 0 0 0 -1.0 1 0 0 0 0 1" result="cb"/>
<feBlend in="cr" in2="cg" mode="multiply" result="m"/>
<feBlend in="m" in2="cb" mode="multiply" result="rgb"/>
<feFlood x="106" y="880" width="1" height="1" flood-color="#000" result="d"/>
<feOffset in="d" dx="0" dy="0" x="103" y="877" width="6" height="6" result="c6"/>
<feTile in="c6" x="103" y="877" width="24" height="24" result="t24"/>
<feOffset in="t24" dx="0" dy="0" x="103" y="877" width="25" height="25" result="t25"/>
<feTile in="t25" x="103" y="877" width="125" height="100" result="grid"/>
<feComposite in="rgb" in2="grid" operator="in" result="s"/>
<feMorphology in="s" operator="dilate" radius="3 0" result="hx"/>
<feColorMatrix in="hx" type="matrix" values="-1 0 0 0 1 0 -1 0 0 1 0 0 -1 0 1 0 0 0 1 0" result="ink"/>
<feMorphology in="ink" operator="dilate" radius="0 3" result="vy"/>
<feColorMatrix in="vy" type="matrix" values="-1 0 0 0 1 0 -1 0 0 1 0 0 -1 0 1 0 0 0 1 0" result="pix"/>
<feColorMatrix in="pix" type="matrix" values="1 0 0 0 0 1 0 0 0 0 1 0 0 0 0 0 0 0 0 1" result="gr"/>
<feColorMatrix in="pix" type="matrix" values="0 1 0 0 0 0 1 0 0 0 0 1 0 0 0 0 0 0 0 1" result="gg"/>
<feColorMatrix in="pix" type="matrix" values="0 0 1 0 0 0 0 1 0 0 0 0 1 0 0 0 0 0 0 1" result="gb"/>
<feBlend in="gr" in2="gg" mode="darken" result="d1"/>
<feBlend in="d1" in2="gb" mode="darken" result="mn"/>
<feColorMatrix in="mn" type="matrix" values="0 0 0 0 1 0 0 0 0 1 0 0 0 0 1 1.0000 0 0 0 0.0000" result="wm"/>
<feComposite in="pix" in2="wm" operator="arithmetic" k1="0" k2="1" k3="-1" k4="0"/>
</filter>
<filter id="f34" filterUnits="userSpaceOnUse" primitiveUnits="userSpaceOnUse" x="103" y="1077" width="125" height="100" color-interpolation-filters="sRGB">
<feOffset in="SourceAlpha" dx="1" dy="0" result="p0o"/><feComposite in="SourceAlpha" in2="p0o" operator="in" result="p0t"/><feComposite in="SourceAlpha" in2="p0t" operator="arithmetic" k1="0" k2="0.5" k3="0.5" k4="0" result="p0"/>
<feMorphology in="p0" operator="dilate" radius="0 1" result="p1"/>
<feOffset in="p1" dx="0" dy="0" result="th"/>
<feGaussianBlur in="th" stdDeviation="1.5 1.0" result="a"/>
<feOffset in="a" dx="2" dy="0" result="ar"/>
<feOffset in="a" dx="-2" dy="0" result="ab"/>
<feColorMatrix in="ar" type="matrix" values="0 0 0 -1.0 1 0 0 0 0 1 0 0 0 0 1 0 0 0 0 1" result="cr"/>
<feColorMatrix in="a" type="matrix" values="0 0 0 0 1 0 0 0 -1.0 1 0 0 0 0 1 0 0 0 0 1" result="cg"/>
<feColorMatrix in="ab" type="matrix" values="0 0 0 0 1 0 0 0 0 1 0 0 0 -1.0 1 0 0 0 0 1" result="cb"/>
<feBlend in="cr" in2="cg" mode="multiply" result="m"/>
<feBlend in="m" in2="cb" mode="multiply" result="rgb"/>
<feFlood x="106" y="1080" width="1" height="1" flood-color="#000" result="d"/>
<feOffset in="d" dx="0" dy="0" x="103" y="1077" width="6" height="6" result="c6"/>
<feTile in="c6" x="103" y="1077" width="24" height="24" result="t24"/>
<feOffset in="t24" dx="0" dy="0" x="103" y="1077" width="25" height="25" result="t25"/>
<feTile in="t25" x="103" y="1077" width="125" height="100" result="grid"/>
<feComposite in="rgb" in2="grid" operator="in" result="s"/>
<feMorphology in="s" operator="dilate" radius="3 0" result="hx"/>
<feColorMatrix in="hx" type="matrix" values="-1 0 0 0 1 0 -1 0 0 1 0 0 -1 0 1 0 0 0 1 0" result="ink"/>
<feMorphology in="ink" operator="dilate" radius="0 3" result="vy"/>
<feColorMatrix in="vy" type="matrix" values="-1 0 0 0 1 0 -1 0 0 1 0 0 -1 0 1 0 0 0 1 0" result="pix"/>
<feColorMatrix in="pix" type="matrix" values="1 0 0 0 0 1 0 0 0 0 1 0 0 0 0 0 0 0 0 1" result="gr"/>
<feColorMatrix in="pix" type="matrix" values="0 1 0 0 0 0 1 0 0 0 0 1 0 0 0 0 0 0 0 1" result="gg"/>
<feColorMatrix in="pix" type="matrix" values="0 0 1 0 0 0 0 1 0 0 0 0 1 0 0 0 0 0 0 1" result="gb"/>
<feBlend in="gr" in2="gg" mode="darken" result="d1"/>
<feBlend in="d1" in2="gb" mode="darken" result="mn"/>
<feColorMatrix in="mn" type="matrix" values="0 0 0 0 1 0 0 0 0 1 0 0 0 0 1 1.0000 0 0 0 0.0000" result="wm"/>
<feComposite in="pix" in2="wm" operator="arithmetic" k1="0" k2="1" k3="-1" k4="0"/>
</filter>
<filter id="f35" filterUnits="userSpaceOnUse" primitiveUnits="userSpaceOnUse" x="103" y="1277" width="125" height="100" color-interpolation-filters="sRGB">
<feOffset in="SourceAlpha" dx="1" dy="0" result="p0o"/><feComposite in="SourceAlpha" in2="p0o" operator="in" result="p0t"/><feComposite in="SourceAlpha" in2="p0t" operator="arithmetic" k1="0" k2="0.5" k3="0.5" k4="0" result="p0"/>
<feMorphology in="p0" operator="dilate" radius="0 1" result="p1"/>
<feOffset in="p1" dx="0" dy="0" result="th"/>
<feGaussianBlur in="th" stdDeviation="1.5 1.0" result="a"/>
<feOffset in="a" dx="2" dy="0" result="ar"/>
<feOffset in="a" dx="-2" dy="0" result="ab"/>
<feColorMatrix in="ar" type="matrix" values="0 0 0 -1.0 1 0 0 0 0 1 0 0 0 0 1 0 0 0 0 1" result="cr"/>
<feColorMatrix in="a" type="matrix" values="0 0 0 0 1 0 0 0 -1.0 1 0 0 0 0 1 0 0 0 0 1" result="cg"/>
<feColorMatrix in="ab" type="matrix" values="0 0 0 0 1 0 0 0 0 1 0 0 0 -1.0 1 0 0 0 0 1" result="cb"/>
<feBlend in="cr" in2="cg" mode="multiply" result="m"/>
<feBlend in="m" in2="cb" mode="multiply" result="rgb"/>
<feFlood x="106" y="1280" width="1" height="1" flood-color="#000" result="d"/>
<feOffset in="d" dx="0" dy="0" x="103" y="1277" width="6" height="6" result="c6"/>
<feTile in="c6" x="103" y="1277" width="24" height="24" result="t24"/>
<feOffset in="t24" dx="0" dy="0" x="103" y="1277" width="25" height="25" result="t25"/>
<feTile in="t25" x="103" y="1277" width="125" height="100" result="grid"/>
<feComposite in="rgb" in2="grid" operator="in" result="s"/>
<feMorphology in="s" operator="dilate" radius="3 0" result="hx"/>
<feColorMatrix in="hx" type="matrix" values="-1 0 0 0 1 0 -1 0 0 1 0 0 -1 0 1 0 0 0 1 0" result="ink"/>
<feMorphology in="ink" operator="dilate" radius="0 3" result="vy"/>
<feColorMatrix in="vy" type="matrix" values="-1 0 0 0 1 0 -1 0 0 1 0 0 -1 0 1 0 0 0 1 0" result="pix"/>
<feColorMatrix in="pix" type="matrix" values="1 0 0 0 0 1 0 0 0 0 1 0 0 0 0 0 0 0 0 1" result="gr"/>
<feColorMatrix in="pix" type="matrix" values="0 1 0 0 0 0 1 0 0 0 0 1 0 0 0 0 0 0 0 1" result="gg"/>
<feColorMatrix in="pix" type="matrix" values="0 0 1 0 0 0 0 1 0 0 0 0 1 0 0 0 0 0 0 1" result="gb"/>
<feBlend in="gr" in2="gg" mode="darken" result="d1"/>
<feBlend in="d1" in2="gb" mode="darken" result="mn"/>
<feColorMatrix in="mn" type="matrix" values="0 0 0 0 1 0 0 0 0 1 0 0 0 0 1 1.0000 0 0 0 0.0000" result="wm"/>
<feComposite in="pix" in2="wm" operator="arithmetic" k1="0" k2="1" k3="-1" k4="0"/>
</filter>
<filter id="f36" filterUnits="userSpaceOnUse" primitiveUnits="userSpaceOnUse" x="103" y="1477" width="125" height="100" color-interpolation-filters="sRGB">
<feOffset in="SourceAlpha" dx="1" dy="0" result="p0o"/><feComposite in="SourceAlpha" in2="p0o" operator="in" result="p0t"/><feComposite in="SourceAlpha" in2="p0t" operator="arithmetic" k1="0" k2="0.5" k3="0.5" k4="0" result="p0"/>
<feMorphology in="p0" operator="dilate" radius="0 1" result="p1"/>
<feOffset in="p1" dx="0" dy="0" result="th"/>
<feGaussianBlur in="th" stdDeviation="1.5 1.0" result="a"/>
<feOffset in="a" dx="2" dy="0" result="ar"/>
<feOffset in="a" dx="-2" dy="0" result="ab"/>
<feColorMatrix in="ar" type="matrix" values="0 0 0 -1.0 1 0 0 0 0 1 0 0 0 0 1 0 0 0 0 1" result="cr"/>
<feColorMatrix in="a" type="matrix" values="0 0 0 0 1 0 0 0 -1.0 1 0 0 0 0 1 0 0 0 0 1" result="cg"/>
<feColorMatrix in="ab" type="matrix" values="0 0 0 0 1 0 0 0 0 1 0 0 0 -1.0 1 0 0 0 0 1" result="cb"/>
<feBlend in="cr" in2="cg" mode="multiply" result="m"/>
<feBlend in="m" in2="cb" mode="multiply" result="rgb"/>
<feFlood x="106" y="1480" width="1" height="1" flood-color="#000" result="d"/>
<feOffset in="d" dx="0" dy="0" x="103" y="1477" width="6" height="6" result="c6"/>
<feTile in="c6" x="103" y="1477" width="24" height="24" result="t24"/>
<feOffset in="t24" dx="0" dy="0" x="103" y="1477" width="25" height="25" result="t25"/>
<feTile in="t25" x="103" y="1477" width="125" height="100" result="grid"/>
<feComposite in="rgb" in2="grid" operator="in" result="s"/>
<feMorphology in="s" operator="dilate" radius="3 0" result="hx"/>
<feColorMatrix in="hx" type="matrix" values="-1 0 0 0 1 0 -1 0 0 1 0 0 -1 0 1 0 0 0 1 0" result="ink"/>
<feMorphology in="ink" operator="dilate" radius="0 3" result="vy"/>
<feColorMatrix in="vy" type="matrix" values="-1 0 0 0 1 0 -1 0 0 1 0 0 -1 0 1 0 0 0 1 0" result="pix"/>
<feColorMatrix in="pix" type="matrix" values="1 0 0 0 0 1 0 0 0 0 1 0 0 0 0 0 0 0 0 1" result="gr"/>
<feColorMatrix in="pix" type="matrix" values="0 1 0 0 0 0 1 0 0 0 0 1 0 0 0 0 0 0 0 1" result="gg"/>
<feColorMatrix in="pix" type="matrix" values="0 0 1 0 0 0 0 1 0 0 0 0 1 0 0 0 0 0 0 1" result="gb"/>
<feBlend in="gr" in2="gg" mode="darken" result="d1"/>
<feBlend in="d1" in2="gb" mode="darken" result="mn"/>
<feColorMatrix in="mn" type="matrix" values="0 0 0 0 1 0 0 0 0 1 0 0 0 0 1 1.0000 0 0 0 0.0000" result="wm"/>
<feComposite in="pix" in2="wm" operator="arithmetic" k1="0" k2="1" k3="-1" k4="0"/>
</filter>
<filter id="f37" filterUnits="userSpaceOnUse" primitiveUnits="userSpaceOnUse" x="378" y="1577" width="150" height="100" color-interpolation-filters="sRGB">
<feOffset in="SourceAlpha" dx="1" dy="0" result="p0o"/><feComposite in="SourceAlpha" in2="p0o" operator="in" result="p0t"/><feComposite in="SourceAlpha" in2="p0t" operator="arithmetic" k1="0" k2="0.5" k3="0.5" k4="0" result="p0"/>
<feMorphology in="p0" operator="dilate" radius="0 1" result="p1"/>
<feOffset in="p1" dx="0" dy="0" result="th"/>
<feGaussianBlur in="th" stdDeviation="1.5 1.0" result="a"/>
<feOffset in="a" dx="2" dy="0" result="ar"/>
<feOffset in="a" dx="-2" dy="0" result="ab"/>
<feColorMatrix in="ar" type="matrix" values="0 0 0 -1.0 1 0 0 0 0 1 0 0 0 0 1 0 0 0 0 1" result="cr"/>
<feColorMatrix in="a" type="matrix" values="0 0 0 0 1 0 0 0 -1.0 1 0 0 0 0 1 0 0 0 0 1" result="cg"/>
<feColorMatrix in="ab" type="matrix" values="0 0 0 0 1 0 0 0 0 1 0 0 0 -1.0 1 0 0 0 0 1" result="cb"/>
<feBlend in="cr" in2="cg" mode="multiply" result="m"/>
<feBlend in="m" in2="cb" mode="multiply" result="rgb"/>
<feFlood x="381" y="1580" width="1" height="1" flood-color="#000" result="d"/>
<feOffset in="d" dx="0" dy="0" x="378" y="1577" width="6" height="6" result="c6"/>
<feTile in="c6" x="378" y="1577" width="24" height="24" result="t24"/>
<feOffset in="t24" dx="0" dy="0" x="378" y="1577" width="25" height="25" result="t25"/>
<feTile in="t25" x="378" y="1577" width="150" height="100" result="grid"/>
<feComposite in="rgb" in2="grid" operator="in" result="s"/>
<feMorphology in="s" operator="dilate" radius="3 0" result="hx"/>
<feColorMatrix in="hx" type="matrix" values="-1 0 0 0 1 0 -1 0 0 1 0 0 -1 0 1 0 0 0 1 0" result="ink"/>
<feMorphology in="ink" operator="dilate" radius="0 3" result="vy"/>
<feColorMatrix in="vy" type="matrix" values="-1 0 0 0 1 0 -1 0 0 1 0 0 -1 0 1 0 0 0 1 0" result="pix"/>
<feColorMatrix in="pix" type="matrix" values="1 0 0 0 0 1 0 0 0 0 1 0 0 0 0 0 0 0 0 1" result="gr"/>
<feColorMatrix in="pix" type="matrix" values="0 1 0 0 0 0 1 0 0 0 0 1 0 0 0 0 0 0 0 1" result="gg"/>
<feColorMatrix in="pix" type="matrix" values="0 0 1 0 0 0 0 1 0 0 0 0 1 0 0 0 0 0 0 1" result="gb"/>
<feBlend in="gr" in2="gg" mode="darken" result="d1"/>
<feBlend in="d1" in2="gb" mode="darken" result="mn"/>
<feColorMatrix in="mn" type="matrix" values="0 0 0 0 1 0 0 0 0 1 0 0 0 0 1 1.0000 0 0 0 0.0000" result="wm"/>
<feComposite in="pix" in2="wm" operator="arithmetic" k1="0" k2="1" k3="-1" k4="0"/>
</filter>
<filter id="f38" filterUnits="userSpaceOnUse" primitiveUnits="userSpaceOnUse" x="753" y="1577" width="150" height="100" color-interpolation-filters="sRGB">
<feOffset in="SourceAlpha" dx="1" dy="0" result="p0o"/><feComposite in="SourceAlpha" in2="p0o" operator="in" result="p0t"/><feComposite in="SourceAlpha" in2="p0t" operator="arithmetic" k1="0" k2="0.5" k3="0.5" k4="0" result="p0"/>
<feMorphology in="p0" operator="dilate" radius="0 1" result="p1"/>
<feOffset in="p1" dx="0" dy="0" result="th"/>
<feGaussianBlur in="th" stdDeviation="1.5 1.0" result="a"/>
<feOffset in="a" dx="2" dy="0" result="ar"/>
<feOffset in="a" dx="-2" dy="0" result="ab"/>
<feColorMatrix in="ar" type="matrix" values="0 0 0 -1.0 1 0 0 0 0 1 0 0 0 0 1 0 0 0 0 1" result="cr"/>
<feColorMatrix in="a" type="matrix" values="0 0 0 0 1 0 0 0 -1.0 1 0 0 0 0 1 0 0 0 0 1" result="cg"/>
<feColorMatrix in="ab" type="matrix" values="0 0 0 0 1 0 0 0 0 1 0 0 0 -1.0 1 0 0 0 0 1" result="cb"/>
<feBlend in="cr" in2="cg" mode="multiply" result="m"/>
<feBlend in="m" in2="cb" mode="multiply" result="rgb"/>
<feFlood x="756" y="1580" width="1" height="1" flood-color="#000" result="d"/>
<feOffset in="d" dx="0" dy="0" x="753" y="1577" width="6" height="6" result="c6"/>
<feTile in="c6" x="753" y="1577" width="24" height="24" result="t24"/>
<feOffset in="t24" dx="0" dy="0" x="753" y="1577" width="25" height="25" result="t25"/>
<feTile in="t25" x="753" y="1577" width="150" height="100" result="grid"/>
<feComposite in="rgb" in2="grid" operator="in" result="s"/>
<feMorphology in="s" operator="dilate" radius="3 0" result="hx"/>
<feColorMatrix in="hx" type="matrix" values="-1 0 0 0 1 0 -1 0 0 1 0 0 -1 0 1 0 0 0 1 0" result="ink"/>
<feMorphology in="ink" operator="dilate" radius="0 3" result="vy"/>
<feColorMatrix in="vy" type="matrix" values="-1 0 0 0 1 0 -1 0 0 1 0 0 -1 0 1 0 0 0 1 0" result="pix"/>
<feColorMatrix in="pix" type="matrix" values="1 0 0 0 0 1 0 0 0 0 1 0 0 0 0 0 0 0 0 1" result="gr"/>
<feColorMatrix in="pix" type="matrix" values="0 1 0 0 0 0 1 0 0 0 0 1 0 0 0 0 0 0 0 1" result="gg"/>
<feColorMatrix in="pix" type="matrix" values="0 0 1 0 0 0 0 1 0 0 0 0 1 0 0 0 0 0 0 1" result="gb"/>
<feBlend in="gr" in2="gg" mode="darken" result="d1"/>
<feBlend in="d1" in2="gb" mode="darken" result="mn"/>
<feColorMatrix in="mn" type="matrix" values="0 0 0 0 1 0 0 0 0 1 0 0 0 0 1 1.0000 0 0 0 0.0000" result="wm"/>
<feComposite in="pix" in2="wm" operator="arithmetic" k1="0" k2="1" k3="-1" k4="0"/>
</filter>
<filter id="f39" filterUnits="userSpaceOnUse" primitiveUnits="userSpaceOnUse" x="1128" y="1577" width="150" height="100" color-interpolation-filters="sRGB">
<feOffset in="SourceAlpha" dx="1" dy="0" result="p0o"/><feComposite in="SourceAlpha" in2="p0o" operator="in" result="p0t"/><feComposite in="SourceAlpha" in2="p0t" operator="arithmetic" k1="0" k2="0.5" k3="0.5" k4="0" result="p0"/>
<feMorphology in="p0" operator="dilate" radius="0 1" result="p1"/>
<feOffset in="p1" dx="0" dy="0" result="th"/>
<feGaussianBlur in="th" stdDeviation="1.5 1.0" result="a"/>
<feOffset in="a" dx="2" dy="0" result="ar"/>
<feOffset in="a" dx="-2" dy="0" result="ab"/>
<feColorMatrix in="ar" type="matrix" values="0 0 0 -1.0 1 0 0 0 0 1 0 0 0 0 1 0 0 0 0 1" result="cr"/>
<feColorMatrix in="a" type="matrix" values="0 0 0 0 1 0 0 0 -1.0 1 0 0 0 0 1 0 0 0 0 1" result="cg"/>
<feColorMatrix in="ab" type="matrix" values="0 0 0 0 1 0 0 0 0 1 0 0 0 -1.0 1 0 0 0 0 1" result="cb"/>
<feBlend in="cr" in2="cg" mode="multiply" result="m"/>
<feBlend in="m" in2="cb" mode="multiply" result="rgb"/>
<feFlood x="1131" y="1580" width="1" height="1" flood-color="#000" result="d"/>
<feOffset in="d" dx="0" dy="0" x="1128" y="1577" width="6" height="6" result="c6"/>
<feTile in="c6" x="1128" y="1577" width="24" height="24" result="t24"/>
<feOffset in="t24" dx="0" dy="0" x="1128" y="1577" width="25" height="25" result="t25"/>
<feTile in="t25" x="1128" y="1577" width="150" height="100" result="grid"/>
<feComposite in="rgb" in2="grid" operator="in" result="s"/>
<feMorphology in="s" operator="dilate" radius="3 0" result="hx"/>
<feColorMatrix in="hx" type="matrix" values="-1 0 0 0 1 0 -1 0 0 1 0 0 -1 0 1 0 0 0 1 0" result="ink"/>
<feMorphology in="ink" operator="dilate" radius="0 3" result="vy"/>
<feColorMatrix in="vy" type="matrix" values="-1 0 0 0 1 0 -1 0 0 1 0 0 -1 0 1 0 0 0 1 0" result="pix"/>
<feColorMatrix in="pix" type="matrix" values="1 0 0 0 0 1 0 0 0 0 1 0 0 0 0 0 0 0 0 1" result="gr"/>
<feColorMatrix in="pix" type="matrix" values="0 1 0 0 0 0 1 0 0 0 0 1 0 0 0 0 0 0 0 1" result="gg"/>
<feColorMatrix in="pix" type="matrix" values="0 0 1 0 0 0 0 1 0 0 0 0 1 0 0 0 0 0 0 1" result="gb"/>
<feBlend in="gr" in2="gg" mode="darken" result="d1"/>
<feBlend in="d1" in2="gb" mode="darken" result="mn"/>
<feColorMatrix in="mn" type="matrix" values="0 0 0 0 1 0 0 0 0 1 0 0 0 0 1 1.0000 0 0 0 0.0000" result="wm"/>
<feComposite in="pix" in2="wm" operator="arithmetic" k1="0" k2="1" k3="-1" k4="0"/>
</filter>
<filter id="f40" filterUnits="userSpaceOnUse" primitiveUnits="userSpaceOnUse" x="1503" y="1577" width="150" height="100" color-interpolation-filters="sRGB">
<feOffset in="SourceAlpha" dx="1" dy="0" result="p0o"/><feComposite in="SourceAlpha" in2="p0o" operator="in" result="p0t"/><feComposite in="SourceAlpha" in2="p0t" operator="arithmetic" k1="0" k2="0.5" k3="0.5" k4="0" result="p0"/>
<feMorphology in="p0" operator="dilate" radius="0 1" result="p1"/>
<feOffset in="p1" dx="0" dy="0" result="th"/>
<feGaussianBlur in="th" stdDeviation="1.5 1.0" result="a"/>
<feOffset in="a" dx="2" dy="0" result="ar"/>
<feOffset in="a" dx="-2" dy="0" result="ab"/>
<feColorMatrix in="ar" type="matrix" values="0 0 0 -1.0 1 0 0 0 0 1 0 0 0 0 1 0 0 0 0 1" result="cr"/>
<feColorMatrix in="a" type="matrix" values="0 0 0 0 1 0 0 0 -1.0 1 0 0 0 0 1 0 0 0 0 1" result="cg"/>
<feColorMatrix in="ab" type="matrix" values="0 0 0 0 1 0 0 0 0 1 0 0 0 -1.0 1 0 0 0 0 1" result="cb"/>
<feBlend in="cr" in2="cg" mode="multiply" result="m"/>
<feBlend in="m" in2="cb" mode="multiply" result="rgb"/>
<feFlood x="1506" y="1580" width="1" height="1" flood-color="#000" result="d"/>
<feOffset in="d" dx="0" dy="0" x="1503" y="1577" width="6" height="6" result="c6"/>
<feTile in="c6" x="1503" y="1577" width="24" height="24" result="t24"/>
<feOffset in="t24" dx="0" dy="0" x="1503" y="1577" width="25" height="25" result="t25"/>
<feTile in="t25" x="1503" y="1577" width="150" height="100" result="grid"/>
<feComposite in="rgb" in2="grid" operator="in" result="s"/>
<feMorphology in="s" operator="dilate" radius="3 0" result="hx"/>
<feColorMatrix in="hx" type="matrix" values="-1 0 0 0 1 0 -1 0 0 1 0 0 -1 0 1 0 0 0 1 0" result="ink"/>
<feMorphology in="ink" operator="dilate" radius="0 3" result="vy"/>
<feColorMatrix in="vy" type="matrix" values="-1 0 0 0 1 0 -1 0 0 1 0 0 -1 0 1 0 0 0 1 0" result="pix"/>
<feColorMatrix in="pix" type="matrix" values="1 0 0 0 0 1 0 0 0 0 1 0 0 0 0 0 0 0 0 1" result="gr"/>
<feColorMatrix in="pix" type="matrix" values="0 1 0 0 0 0 1 0 0 0 0 1 0 0 0 0 0 0 0 1" result="gg"/>
<feColorMatrix in="pix" type="matrix" values="0 0 1 0 0 0 0 1 0 0 0 0 1 0 0 0 0 0 0 1" result="gb"/>
<feBlend in="gr" in2="gg" mode="darken" result="d1"/>
<feBlend in="d1" in2="gb" mode="darken" result="mn"/>
<feColorMatrix in="mn" type="matrix" values="0 0 0 0 1 0 0 0 0 1 0 0 0 0 1 1.0000 0 0 0 0.0000" result="wm"/>
<feComposite in="pix" in2="wm" operator="arithmetic" k1="0" k2="1" k3="-1" k4="0"/>
</filter>
<filter id="f41" filterUnits="userSpaceOnUse" primitiveUnits="userSpaceOnUse" x="1853" y="1577" width="200" height="100" color-interpolation-filters="sRGB">
<feOffset in="SourceAlpha" dx="1" dy="0" result="p0o"/><feComposite in="SourceAlpha" in2="p0o" operator="in" result="p0t"/><feComposite in="SourceAlpha" in2="p0t" operator="arithmetic" k1="0" k2="0.5" k3="0.5" k4="0" result="p0"/>
<feMorphology in="p0" operator="dilate" radius="0 1" result="p1"/>
<feOffset in="p1" dx="0" dy="0" result="th"/>
<feGaussianBlur in="th" stdDeviation="1.5 1.0" result="a"/>
<feOffset in="a" dx="2" dy="0" result="ar"/>
<feOffset in="a" dx="-2" dy="0" result="ab"/>
<feColorMatrix in="ar" type="matrix" values="0 0 0 -1.0 1 0 0 0 0 1 0 0 0 0 1 0 0 0 0 1" result="cr"/>
<feColorMatrix in="a" type="matrix" values="0 0 0 0 1 0 0 0 -1.0 1 0 0 0 0 1 0 0 0 0 1" result="cg"/>
<feColorMatrix in="ab" type="matrix" values="0 0 0 0 1 0 0 0 0 1 0 0 0 -1.0 1 0 0 0 0 1" result="cb"/>
<feBlend in="cr" in2="cg" mode="multiply" result="m"/>
<feBlend in="m" in2="cb" mode="multiply" result="rgb"/>
<feFlood x="1856" y="1580" width="1" height="1" flood-color="#000" result="d"/>
<feOffset in="d" dx="0" dy="0" x="1853" y="1577" width="6" height="6" result="c6"/>
<feTile in="c6" x="1853" y="1577" width="24" height="24" result="t24"/>
<feOffset in="t24" dx="0" dy="0" x="1853" y="1577" width="25" height="25" result="t25"/>
<feTile in="t25" x="1853" y="1577" width="200" height="100" result="grid"/>
<feComposite in="rgb" in2="grid" operator="in" result="s"/>
<feMorphology in="s" operator="dilate" radius="3 0" result="hx"/>
<feColorMatrix in="hx" type="matrix" values="-1 0 0 0 1 0 -1 0 0 1 0 0 -1 0 1 0 0 0 1 0" result="ink"/>
<feMorphology in="ink" operator="dilate" radius="0 3" result="vy"/>
<feColorMatrix in="vy" type="matrix" values="-1 0 0 0 1 0 -1 0 0 1 0 0 -1 0 1 0 0 0 1 0" result="pix"/>
<feColorMatrix in="pix" type="matrix" values="1 0 0 0 0 1 0 0 0 0 1 0 0 0 0 0 0 0 0 1" result="gr"/>
<feColorMatrix in="pix" type="matrix" values="0 1 0 0 0 0 1 0 0 0 0 1 0 0 0 0 0 0 0 1" result="gg"/>
<feColorMatrix in="pix" type="matrix" values="0 0 1 0 0 0 0 1 0 0 0 0 1 0 0 0 0 0 0 1" result="gb"/>
<feBlend in="gr" in2="gg" mode="darken" result="d1"/>
<feBlend in="d1" in2="gb" mode="darken" result="mn"/>
<feColorMatrix in="mn" type="matrix" values="0 0 0 0 1 0 0 0 0 1 0 0 0 0 1 1.0000 0 0 0 0.0000" result="wm"/>
<feComposite in="pix" in2="wm" operator="arithmetic" k1="0" k2="1" k3="-1" k4="0"/>
</filter>
<filter id="f42" filterUnits="userSpaceOnUse" primitiveUnits="userSpaceOnUse" x="903" y="1652" width="600" height="125" color-interpolation-filters="sRGB">
<feMorphology in="SourceAlpha" operator="erode" radius="1 0" result="p0"/>
<feMorphology in="p0" operator="dilate" radius="0 1" result="p1"/>
<feOffset in="p1" dx="0" dy="0" result="th"/>
<feGaussianBlur in="th" stdDeviation="1.5 1.0" result="a"/>
<feOffset in="a" dx="2" dy="0" result="ar"/>
<feOffset in="a" dx="-2" dy="0" result="ab"/>
<feColorMatrix in="ar" type="matrix" values="0 0 0 -1.0 1 0 0 0 0 1 0 0 0 0 1 0 0 0 0 1" result="cr"/>
<feColorMatrix in="a" type="matrix" values="0 0 0 0 1 0 0 0 -1.0 1 0 0 0 0 1 0 0 0 0 1" result="cg"/>
<feColorMatrix in="ab" type="matrix" values="0 0 0 0 1 0 0 0 0 1 0 0 0 -1.0 1 0 0 0 0 1" result="cb"/>
<feBlend in="cr" in2="cg" mode="multiply" result="m"/>
<feBlend in="m" in2="cb" mode="multiply" result="rgb"/>
<feFlood x="906" y="1655" width="1" height="1" flood-color="#000" result="d"/>
<feOffset in="d" dx="0" dy="0" x="903" y="1652" width="6" height="6" result="c6"/>
<feTile in="c6" x="903" y="1652" width="24" height="24" result="t24"/>
<feOffset in="t24" dx="0" dy="0" x="903" y="1652" width="25" height="25" result="t25"/>
<feTile in="t25" x="903" y="1652" width="600" height="125" result="grid"/>
<feComposite in="rgb" in2="grid" operator="in" result="s"/>
<feMorphology in="s" operator="dilate" radius="3 0" result="hx"/>
<feColorMatrix in="hx" type="matrix" values="-1 0 0 0 1 0 -1 0 0 1 0 0 -1 0 1 0 0 0 1 0" result="ink"/>
<feMorphology in="ink" operator="dilate" radius="0 3" result="vy"/>
<feColorMatrix in="vy" type="matrix" values="-1 0 0 0 1 0 -1 0 0 1 0 0 -1 0 1 0 0 0 1 0" result="pix"/>
<feColorMatrix in="pix" type="matrix" values="1 0 0 0 0 1 0 0 0 0 1 0 0 0 0 0 0 0 0 1" result="gr"/>
<feColorMatrix in="pix" type="matrix" values="0 1 0 0 0 0 1 0 0 0 0 1 0 0 0 0 0 0 0 1" result="gg"/>
<feColorMatrix in="pix" type="matrix" values="0 0 1 0 0 0 0 1 0 0 0 0 1 0 0 0 0 0 0 1" result="gb"/>
<feBlend in="gr" in2="gg" mode="darken" result="d1"/>
<feBlend in="d1" in2="gb" mode="darken" result="mn"/>
<feColorMatrix in="mn" type="matrix" values="0 0 0 0 1 0 0 0 0 1 0 0 0 0 1 1.0000 0 0 0 0.0000" result="wm"/>
<feComposite in="pix" in2="wm" operator="arithmetic" k1="0" k2="1" k3="-1" k4="0"/>
</filter>
<filter id="f43" filterUnits="userSpaceOnUse" primitiveUnits="userSpaceOnUse" x="-22" y="277" width="150" height="1100" color-interpolation-filters="sRGB">
<feOffset in="SourceAlpha" dx="0" dy="1" result="p0o"/><feComposite in="SourceAlpha" in2="p0o" operator="in" result="p0t"/><feComposite in="SourceAlpha" in2="p0t" operator="arithmetic" k1="0" k2="0.5" k3="0.5" k4="0" result="p0"/>
<feOffset in="p0" dx="0" dy="0" result="th"/>
<feGaussianBlur in="th" stdDeviation="1.5 1.0" result="a"/>
<feOffset in="a" dx="2" dy="0" result="ar"/>
<feOffset in="a" dx="-2" dy="0" result="ab"/>
<feColorMatrix in="ar" type="matrix" values="0 0 0 -1.0 1 0 0 0 0 1 0 0 0 0 1 0 0 0 0 1" result="cr"/>
<feColorMatrix in="a" type="matrix" values="0 0 0 0 1 0 0 0 -1.0 1 0 0 0 0 1 0 0 0 0 1" result="cg"/>
<feColorMatrix in="ab" type="matrix" values="0 0 0 0 1 0 0 0 0 1 0 0 0 -1.0 1 0 0 0 0 1" result="cb"/>
<feBlend in="cr" in2="cg" mode="multiply" result="m"/>
<feBlend in="m" in2="cb" mode="multiply" result="rgb"/>
<feFlood x="-19" y="280" width="1" height="1" flood-color="#000" result="d"/>
<feOffset in="d" dx="0" dy="0" x="-22" y="277" width="6" height="6" result="c6"/>
<feTile in="c6" x="-22" y="277" width="24" height="24" result="t24"/>
<feOffset in="t24" dx="0" dy="0" x="-22" y="277" width="25" height="25" result="t25"/>
<feTile in="t25" x="-22" y="277" width="150" height="1100" result="grid"/>
<feComposite in="rgb" in2="grid" operator="in" result="s"/>
<feMorphology in="s" operator="dilate" radius="3 0" result="hx"/>
<feColorMatrix in="hx" type="matrix" values="-1 0 0 0 1 0 -1 0 0 1 0 0 -1 0 1 0 0 0 1 0" result="ink"/>
<feMorphology in="ink" operator="dilate" radius="0 3" result="vy"/>
<feColorMatrix in="vy" type="matrix" values="-1 0 0 0 1 0 -1 0 0 1 0 0 -1 0 1 0 0 0 1 0" result="pix"/>
<feColorMatrix in="pix" type="matrix" values="1 0 0 0 0 1 0 0 0 0 1 0 0 0 0 0 0 0 0 1" result="gr"/>
<feColorMatrix in="pix" type="matrix" values="0 1 0 0 0 0 1 0 0 0 0 1 0 0 0 0 0 0 0 1" result="gg"/>
<feColorMatrix in="pix" type="matrix" values="0 0 1 0 0 0 0 1 0 0 0 0 1 0 0 0 0 0 0 1" result="gb"/>
<feBlend in="gr" in2="gg" mode="darken" result="d1"/>
<feBlend in="d1" in2="gb" mode="darken" result="mn"/>
<feColorMatrix in="mn" type="matrix" values="0 0 0 0 1 0 0 0 0 1 0 0 0 0 1 1.0000 0 0 0 0.0000" result="wm"/>
<feComposite in="pix" in2="wm" operator="arithmetic" k1="0" k2="1" k3="-1" k4="0"/>
</filter>
</defs>
<rect width="2182" height="1768" fill="#fff"/>
<g class="series s1">
<rect x="312.70" y="749.12" width="68.70" height="786.88" fill="#1e9ad9" stroke="#000" stroke-width="6.25"/>
<rect x="687.60" y="549.12" width="68.70" height="986.88" fill="#1e9ad9" stroke="#000" stroke-width="6.25"/>
<rect x="1069.00" y="530.33" width="68.50" height="1005.67" fill="#1e9ad9" stroke="#000" stroke-width="6.25"/>
<rect x="1443.80" y="499.12" width="68.80" height="1036.88" fill="#1e9ad9" stroke="#000" stroke-width="6.25"/>
<rect x="1819.20" y="699.42" width="68.80" height="836.58" fill="#1e9ad9" stroke="#000" stroke-width="6.25"/>
<path d="M350.20 699.00V799.10M328.20 699.00H365.80M328.20 799.10H365.80" fill="none" stroke="#595959" stroke-width="6.25"/>
<path d="M725.30 499.10V599.00M709.40 499.10H740.90M709.40 599.00H740.90" fill="none" stroke="#595959" stroke-width="6.25"/>
<path d="M1100.20 480.30V580.10M1084.40 480.30H1115.80M1084.40 580.10H1115.80" fill="none" stroke="#595959" stroke-width="6.25"/>
<path d="M1481.50 449.00V549.10M1459.40 449.00H1497.10M1459.40 549.10H1497.10" fill="none" stroke="#595959" stroke-width="6.25"/>
<path d="M1856.50 649.00V749.20M1840.90 649.00H1872.10M1840.90 749.20H1872.10" fill="none" stroke="#595959" stroke-width="6.25"/>
<g filter="url(#f1)"><text transform="translate(304.68 681.70) scale(0.9600 1)" font-size="71.5" fill="#404040">Bc</text></g>
<g filter="url(#f2)"><text transform="translate(681.00 481.80) scale(0.9600 1)" font-size="71.5" fill="#404040">Ac</text></g>
<g filter="url(#f3)"><text transform="translate(1037.60 463.10) scale(1.0139 1)" font-size="71.5" fill="#404040">Aab</text></g>
<g filter="url(#f4)"><text transform="translate(1418.90 431.90) scale(0.9618 1)" font-size="71.5" fill="#404040">Abc</text></g>
<g filter="url(#f5)"><text transform="translate(1810.68 631.90) scale(0.9600 1)" font-size="71.5" fill="#404040">Bc</text></g>
</g>
<g class="series s2">
<rect x="381.40" y="630.33" width="68.70" height="905.67" fill="#ff7f27" stroke="#000" stroke-width="6.25"/>
<rect x="756.30" y="292.52" width="68.80" height="1243.47" fill="#ff7f27" stroke="#000" stroke-width="6.25"/>
<rect x="1137.50" y="599.23" width="68.80" height="936.77" fill="#ff7f27" stroke="#000" stroke-width="6.25"/>
<rect x="1512.60" y="449.12" width="68.70" height="1086.88" fill="#ff7f27" stroke="#000" stroke-width="6.25"/>
<rect x="1888.00" y="455.23" width="68.50" height="1080.78" fill="#ff7f27" stroke="#000" stroke-width="6.25"/>
<path d="M419.00 567.90V686.80M396.90 567.90H434.30M396.90 686.80H434.30" fill="none" stroke="#595959" stroke-width="6.25"/>
<path d="M794.00 230.10V355.00M778.20 230.10H809.60M778.20 355.00H809.60" fill="none" stroke="#595959" stroke-width="6.25"/>
<path d="M1169.00 536.70V655.10M1153.10 536.70H1184.60M1153.10 655.10H1184.60" fill="none" stroke="#595959" stroke-width="6.25"/>
<path d="M1550.20 392.60V511.50M1528.20 392.60H1565.70M1528.20 511.50H1565.70" fill="none" stroke="#595959" stroke-width="6.25"/>
<path d="M1925.20 399.00V517.90M1909.50 399.00H1941.00M1909.50 517.90H1941.00" fill="none" stroke="#595959" stroke-width="6.25"/>
<g filter="url(#f6)"><text transform="translate(379.41 556.70) scale(0.9437 1)" font-size="71.5" fill="#404040">Cb</text></g>
<g filter="url(#f7)"><text transform="translate(750.00 225.30) scale(0.9899 1)" font-size="71.5" fill="#404040">Aa</text></g>
<g filter="url(#f8)"><text transform="translate(1129.38 532.00) scale(0.9600 1)" font-size="71.5" fill="#404040">Cc</text></g>
<g filter="url(#f9)"><text transform="translate(1497.95 381.80) scale(1.0265 1)" font-size="71.5" fill="#404040">Bb</text></g>
<g filter="url(#f10)"><text transform="translate(1879.40 387.90) scale(0.9499 1)" font-size="71.5" fill="#404040">Bb</text></g>
</g>
<g class="series s3">
<rect x="450.10" y="567.92" width="68.80" height="968.08" fill="#a6a6a6" stroke="#000" stroke-width="6.25"/>
<rect x="825.10" y="530.42" width="68.70" height="1005.58" fill="#a6a6a6" stroke="#000" stroke-width="6.25"/>
<rect x="1206.30" y="480.32" width="68.70" height="1055.67" fill="#a6a6a6" stroke="#000" stroke-width="6.25"/>
<rect x="1581.30" y="374.02" width="68.80" height="1161.97" fill="#a6a6a6" stroke="#000" stroke-width="6.25"/>
<rect x="1956.50" y="480.32" width="68.80" height="1055.67" fill="#a6a6a6" stroke="#000" stroke-width="6.25"/>
<path d="M487.80 530.20V599.00M465.60 530.20H503.30M465.60 599.00H503.30" fill="none" stroke="#595959" stroke-width="6.25"/>
<path d="M862.80 499.10V561.80M846.90 499.10H878.10M846.90 561.80H878.10" fill="none" stroke="#595959" stroke-width="6.25"/>
<path d="M1237.80 443.00V511.60M1222.00 443.00H1253.30M1222.00 511.60H1253.30" fill="none" stroke="#595959" stroke-width="6.25"/>
<path d="M1612.80 342.60V405.20M1596.90 342.60H1634.60M1596.90 405.20H1634.60" fill="none" stroke="#595959" stroke-width="6.25"/>
<path d="M1993.80 449.00V511.60M1978.00 449.00H2009.70M1978.00 511.60H2009.70" fill="none" stroke="#595959" stroke-width="6.25"/>
<g filter="url(#f11)"><text transform="translate(448.04 494.10) scale(0.9780 1)" font-size="71.5" fill="#404040">Ca</text></g>
<g filter="url(#f12)"><text transform="translate(798.07 463.00) scale(0.9645 1)" font-size="71.5" fill="#404040">BCc</text></g>
<g filter="url(#f13)"><text transform="translate(1192.09 406.90) scale(1.0549 1)" font-size="71.5" fill="#404040">Ba</text></g>
<g filter="url(#f14)"><text transform="translate(1568.70 306.80) scale(1.0613 1)" font-size="71.5" fill="#404040">Aa</text></g>
<g filter="url(#f15)"><text transform="translate(1948.15 412.90) scale(1.0252 1)" font-size="71.5" fill="#404040">Bb</text></g>
</g>
<g class="series s4">
<rect x="518.90" y="505.43" width="68.70" height="1030.58" fill="#ffc000" stroke="#000" stroke-width="6.25"/>
<rect x="893.80" y="467.93" width="68.90" height="1068.08" fill="#ffc000" stroke="#000" stroke-width="6.25"/>
<rect x="1275.00" y="586.33" width="68.80" height="949.67" fill="#ffc000" stroke="#000" stroke-width="6.25"/>
<rect x="1650.10" y="567.92" width="68.80" height="968.08" fill="#ffc000" stroke="#000" stroke-width="6.25"/>
<rect x="2025.30" y="392.52" width="68.80" height="1143.47" fill="#ffc000" stroke="#000" stroke-width="6.25"/>
<path d="M556.50 474.00V542.70M534.50 474.00H572.00M534.50 542.70H572.00" fill="none" stroke="#595959" stroke-width="6.25"/>
<path d="M931.20 436.70V505.30M915.60 436.70H946.80M915.60 505.30H946.80" fill="none" stroke="#595959" stroke-width="6.25"/>
<path d="M1306.50 549.30V617.90M1290.70 549.30H1322.00M1290.70 617.90H1322.00" fill="none" stroke="#595959" stroke-width="6.25"/>
<path d="M1681.30 530.20V599.00M1665.70 530.20H1703.30M1665.70 599.00H1703.30" fill="none" stroke="#595959" stroke-width="6.25"/>
<path d="M2062.80 361.30V430.10M2047.00 361.30H2078.40M2047.00 430.10H2078.40" fill="none" stroke="#595959" stroke-width="6.25"/>
<g filter="url(#f16)"><text transform="translate(510.37 437.80) scale(1.0627 1)" font-size="71.5" fill="#404040">Ba</text></g>
<g filter="url(#f17)"><text transform="translate(866.98 400.40) scale(1.0113 1)" font-size="71.5" fill="#404040">Bbc</text></g>
<g filter="url(#f18)"><text transform="translate(1267.18 519.40) scale(0.9116 1)" font-size="71.5" fill="#404040">Cc</text></g>
<g filter="url(#f19)"><text transform="translate(1648.18 500.50) scale(0.9116 1)" font-size="71.5" fill="#404040">Cc</text></g>
<g filter="url(#f20)"><text transform="translate(2018.90 325.30) scale(0.9863 1)" font-size="71.5" fill="#404040">Aa</text></g>
</g>
<g class="axes" stroke="#000" stroke-width="6.25" fill="none">
<path d="M234.3 111.35H2147"/>
<path d="M234.3 1537.0H2147"/>
<path d="M262.5 108V1565"/>
<path d="M2144.2 108V1565"/>
<path d="M234.3 317.8H262.5"/>
<path d="M234.3 517.7H262.5"/>
<path d="M234.3 724.0H262.5"/>
<path d="M234.3 924.2H262.5"/>
<path d="M234.3 1130.5H262.5"/>
<path d="M234.3 1330.8H262.5"/>
<path d="M637.4 1537.0V1565"/>
<path d="M1019.0 1537.0V1565"/>
<path d="M1393.8 1537.0V1565"/>
<path d="M1769.0 1537.0V1565"/>
</g>
<g class="legend">
<rect x="453.1" y="20.9" width="56.4" height="6.3" fill="#1e9ad9" opacity="0.15"/>
<rect x="453.1" y="27.1" width="6.3" height="49.8" fill="#1e9ad9" opacity="0.2"/>
<rect x="462.52" y="30.23" width="50.15" height="49.45" fill="#1e9ad9" stroke="#000" stroke-width="6.25"/>
<rect x="503.25" y="33.3" width="6.3" height="43.4" fill="#fff" opacity="0.5"/>
<rect x="465.65" y="70.5" width="43.90" height="6.2" fill="#fff" opacity="0.45"/>
<rect x="815.9" y="20.9" width="56.0" height="6.3" fill="#ff7f27" opacity="0.15"/>
<rect x="819.02" y="30.23" width="49.75" height="49.45" fill="#ff7f27" stroke="#000" stroke-width="6.25"/>
<rect x="822.15" y="70.5" width="43.50" height="6.2" fill="#fff" opacity="0.35"/>
<rect x="1209.6" y="20.9" width="56.0" height="6.3" fill="#a6a6a6" opacity="0.18"/>
<rect x="1209.6" y="27.1" width="6.3" height="49.8" fill="#a6a6a6" opacity="0.03"/>
<rect x="1219.03" y="30.23" width="49.75" height="49.45" fill="#a6a6a6" stroke="#000" stroke-width="6.25"/>
<rect x="1259.35" y="33.3" width="6.3" height="43.4" fill="#fff" opacity="0.25"/>
<rect x="1222.15" y="70.5" width="43.50" height="6.2" fill="#fff" opacity="0.4"/>
<rect x="1609.6" y="20.9" width="56.3" height="6.3" fill="#ffc000" opacity="0.18"/>
<rect x="1609.6" y="27.1" width="6.3" height="49.8" fill="#ffc000" opacity="0.45"/>
<rect x="1619.03" y="30.23" width="43.75" height="49.45" fill="#ffc000" stroke="#000" stroke-width="6.25"/>
<rect x="1622.15" y="70.5" width="37.50" height="6.2" fill="#fff" opacity="0.3"/>
<g filter="url(#f21)"><text transform="translate(528.47 75.30) scale(0.9086 1)" font-size="81.0" fill="#000">0</text></g>
<text transform="translate(578.39 75.98) scale(0.8864 1.417)" font-size="83.3" fill="#000">–</text>
<g filter="url(#f22)"><text transform="translate(643.80 75.30) scale(0.9148 1)" font-size="81.0" fill="#000">10cm</text></g>
<g filter="url(#f23)"><text transform="translate(893.72 75.30) scale(0.8825 1)" font-size="81.0" fill="#000">10</text></g>
<text transform="translate(977.99 75.98) scale(0.8932 1.417)" font-size="83.3" fill="#000">–</text>
<g filter="url(#f24)"><text transform="translate(1040.82 75.30) scale(0.9264 1)" font-size="81.0" fill="#000">20cm</text></g>
<g filter="url(#f25)"><text transform="translate(1291.05 75.30) scale(0.9166 1)" font-size="81.0" fill="#000">20</text></g>
<text transform="translate(1377.99 75.98) scale(0.8932 1.417)" font-size="83.3" fill="#000">–</text>
<g filter="url(#f26)"><text transform="translate(1440.82 75.30) scale(0.9264 1)" font-size="81.0" fill="#000">30cm</text></g>
<g filter="url(#f27)"><text transform="translate(1684.65 75.30) scale(0.9152 1)" font-size="81.0" fill="#000">30</text></g>
<text transform="translate(1772.29 75.98) scale(0.8886 1.417)" font-size="83.3" fill="#000">–</text>
<g filter="url(#f28)"><text transform="translate(1830.52 75.30) scale(0.9840 1)" font-size="81.0" fill="#000">40cm</text></g>
</g>
<g class="axis-text">
<g filter="url(#f29)"><text transform="translate(115.95 131.60) scale(0.9159 1)" font-size="81.0" fill="#000">3.5</text></g>
<g filter="url(#f30)"><text transform="translate(115.95 337.80) scale(0.9159 1)" font-size="81.0" fill="#000">3.0</text></g>
<g filter="url(#f31)"><text transform="translate(115.95 538.30) scale(0.9159 1)" font-size="81.0" fill="#000">2.5</text></g>
<g filter="url(#f32)"><text transform="translate(115.95 744.50) scale(0.9159 1)" font-size="81.0" fill="#000">2.0</text></g>
<g filter="url(#f33)"><text transform="translate(118.68 944.50) scale(0.8883 1)" font-size="81.0" fill="#000">1.5</text></g>
<g filter="url(#f34)"><text transform="translate(118.68 1151.00) scale(0.8883 1)" font-size="81.0" fill="#000">1.0</text></g>
<g filter="url(#f35)"><text transform="translate(115.95 1350.90) scale(0.9159 1)" font-size="81.0" fill="#000">0.5</text></g>
<g filter="url(#f36)"><text transform="translate(115.95 1557.20) scale(0.9159 1)" font-size="81.0" fill="#000">0.0</text></g>
<g filter="url(#f37)"><text transform="translate(397.08 1651.10) scale(0.9388 1)" font-size="81.0" fill="#000">CT</text></g>
<g filter="url(#f38)"><text transform="translate(765.90 1651.10) scale(0.9329 1)" font-size="81.0" fill="#000">CM</text></g>
<g filter="url(#f39)"><text transform="translate(1157.61 1651.10) scale(0.9186 1)" font-size="81.0" fill="#000">ST</text></g>
<g filter="url(#f40)"><text transform="translate(1522.88 1651.10) scale(1.0114 1)" font-size="81.0" fill="#000">NT</text></g>
<g filter="url(#f41)"><text transform="translate(1878.38 1651.10) scale(0.9080 1)" font-size="81.0" fill="#000">CSM</text></g>
<g filter="url(#f42)"><text transform="translate(917.82 1732.30) scale(0.9750 1)" font-size="81.0" fill="#000" font-weight="bold">Tillage measures</text></g>
<g filter="url(#f43)"><text transform="translate(76.5 1346.40) rotate(-90) scale(1.0194 1)" font-size="81.0" fill="#000">Aggregate water stability index</text></g>
</g>
</svg>
</body></html>
